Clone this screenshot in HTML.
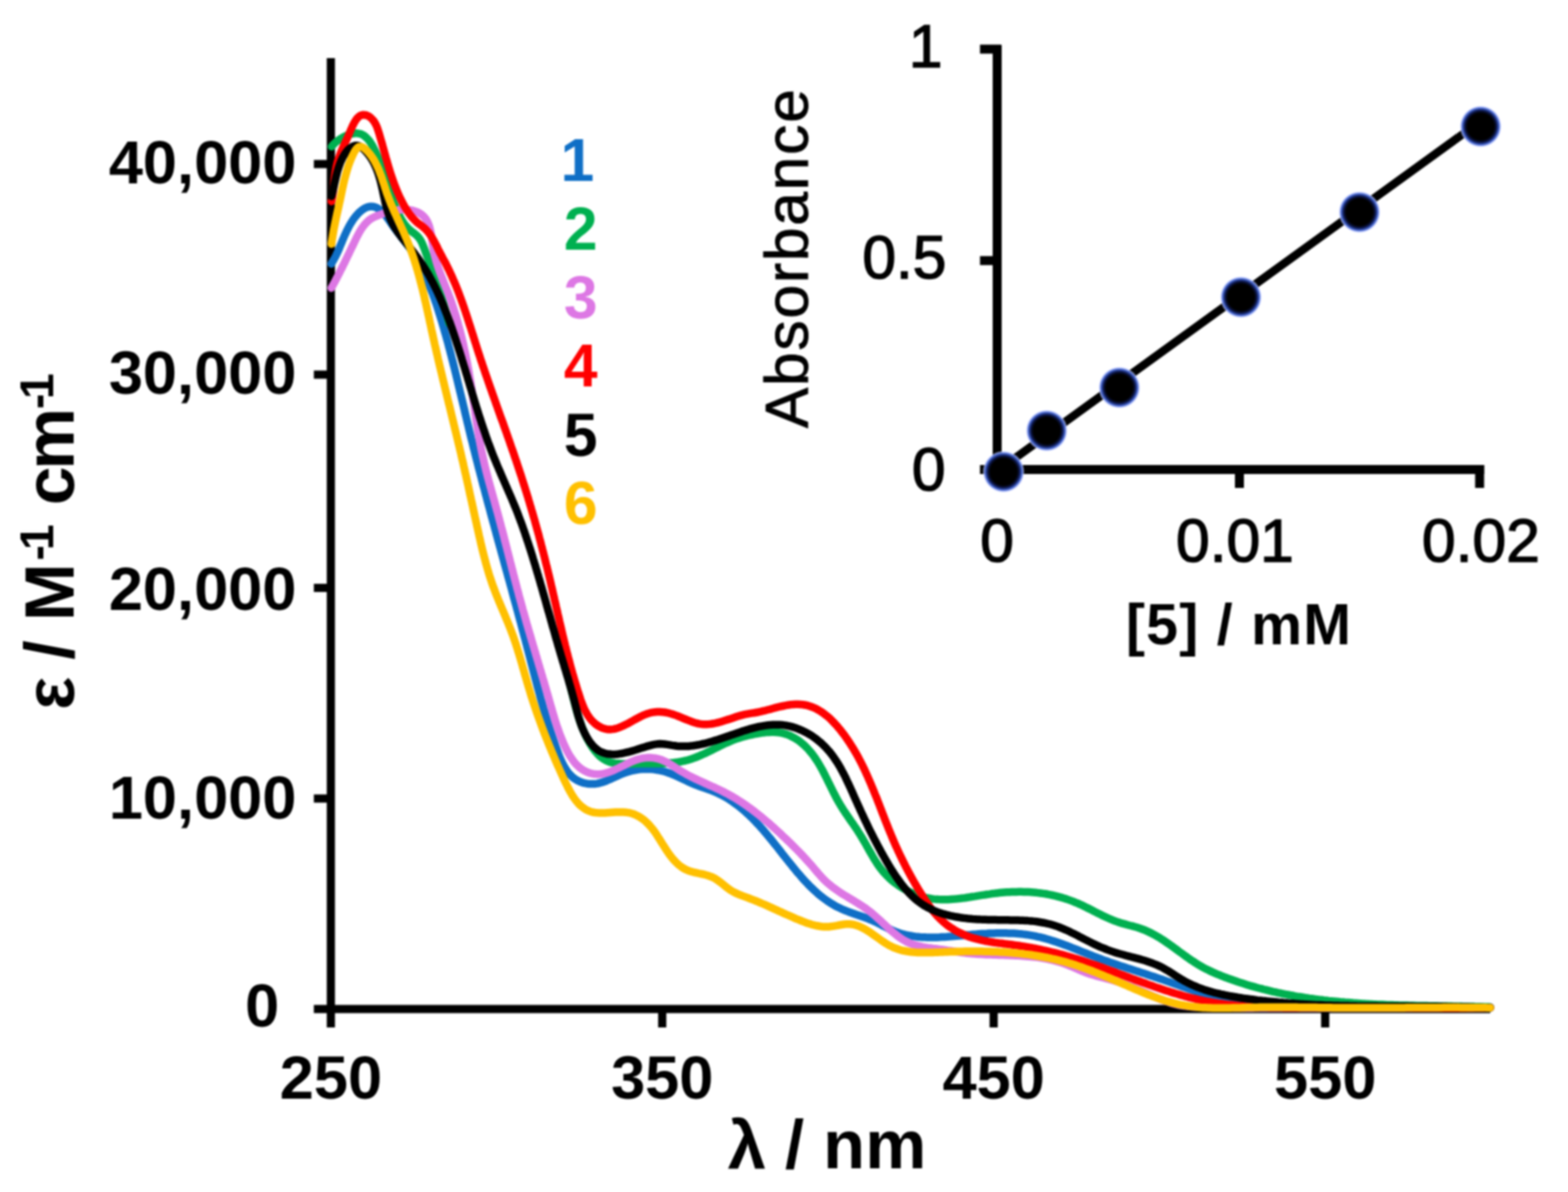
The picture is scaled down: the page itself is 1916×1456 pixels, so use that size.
<!DOCTYPE html>
<html><head><meta charset="utf-8"><title>UV-Vis spectra</title>
<style>html,body{margin:0;padding:0;background:#fff;}svg{display:block;filter:blur(0.85px);}</style>
</head><body>
<svg width="1916" height="1456" viewBox="0 0 1916 1456">
<rect width="1916" height="1456" fill="#ffffff"/>
<g stroke="#000" stroke-width="10" fill="none" stroke-linecap="butt">
<line x1="404.3" y1="71" x2="404.3" y2="1255"/>
<line x1="383.5" y1="1232.5" x2="1821" y2="1232.5"/>
<line x1="383.5" y1="975.4" x2="404.3" y2="975.4"/>
<line x1="383.5" y1="718.1" x2="404.3" y2="718.1"/>
<line x1="383.5" y1="457.6" x2="404.3" y2="457.6"/>
<line x1="383.5" y1="200.4" x2="404.3" y2="200.4"/>
<line x1="809.2" y1="1232.5" x2="809.2" y2="1255"/>
<line x1="1214.2" y1="1232.5" x2="1214.2" y2="1255"/>
<line x1="1619.3" y1="1232.5" x2="1619.3" y2="1255"/>
</g>
<g fill="none" stroke-width="9.5" stroke-linecap="round" stroke-linejoin="round">
<path d="M404.8,322.3 L406.3,319.8 L407.8,317.3 L409.2,314.8 L410.6,312.1 L411.8,309.5 L413.1,306.7 L414.3,304.0 L415.4,301.2 L416.6,298.4 L417.8,295.6 L418.9,292.8 L420.1,290.0 L421.3,287.2 L422.6,284.4 L423.9,281.6 L425.3,278.8 L426.7,276.1 L428.3,273.4 L429.9,270.8 L431.6,268.2 L433.5,265.7 L435.4,263.3 L437.5,260.9 L439.7,258.8 L442.0,256.9 L444.3,255.2 L446.7,253.9 L449.2,252.9 L451.7,252.3 L454.2,252.2 L456.8,252.5 L459.2,253.3 L461.6,254.4 L463.9,255.9 L466.1,257.7 L468.1,259.7 L470.1,262.0 L472.1,264.4 L473.9,267.0 L475.8,269.6 L477.6,272.3 L479.4,275.0 L481.3,277.6 L483.1,280.1 L485.0,282.6 L486.8,285.0 L488.7,287.4 L490.5,289.7 L492.3,292.1 L494.1,294.4 L495.9,296.7 L497.7,299.0 L499.4,301.4 L501.1,303.8 L502.7,306.2 L504.3,308.6 L505.9,311.1 L507.5,313.6 L509.0,316.1 L510.4,318.6 L511.8,321.2 L513.2,323.8 L514.6,326.4 L516.0,329.1 L517.3,331.7 L518.5,334.4 L519.8,337.1 L521.0,339.8 L522.2,342.6 L523.4,345.3 L524.5,348.1 L525.6,350.9 L526.7,353.7 L527.8,356.5 L528.9,359.3 L529.9,362.2 L530.9,365.0 L531.9,367.9 L532.9,370.7 L533.9,373.6 L534.8,376.5 L535.7,379.4 L536.6,382.3 L537.5,385.1 L538.4,388.0 L539.3,390.9 L540.2,393.8 L541.0,396.8 L541.9,399.7 L542.7,402.6 L543.5,405.5 L544.4,408.4 L545.2,411.3 L546.0,414.2 L546.8,417.1 L547.6,420.0 L548.3,422.9 L549.1,425.8 L549.9,428.7 L550.6,431.6 L551.4,434.5 L552.1,437.4 L552.9,440.3 L553.6,443.2 L554.3,446.1 L555.1,449.0 L555.8,451.9 L556.5,454.8 L557.2,457.7 L557.9,460.6 L558.6,463.5 L559.3,466.5 L560.0,469.4 L560.7,472.3 L561.4,475.2 L562.1,478.1 L562.8,481.0 L563.5,483.9 L564.2,486.8 L564.9,489.7 L565.6,492.6 L566.3,495.5 L567.0,498.4 L567.7,501.3 L568.3,504.2 L569.0,507.1 L569.7,510.0 L570.4,512.9 L571.1,515.8 L571.8,518.7 L572.5,521.6 L573.2,524.6 L573.9,527.5 L574.6,530.4 L575.3,533.3 L576.0,536.2 L576.8,539.1 L577.5,542.0 L578.2,544.9 L578.9,547.8 L579.7,550.7 L580.4,553.6 L581.1,556.5 L581.9,559.4 L582.6,562.3 L583.4,565.2 L584.1,568.1 L584.8,571.0 L585.6,573.9 L586.4,576.8 L587.1,579.7 L587.9,582.6 L588.6,585.5 L589.4,588.4 L590.1,591.3 L590.9,594.2 L591.7,597.1 L592.5,600.0 L593.2,602.9 L594.0,605.8 L594.8,608.7 L595.5,611.6 L596.3,614.5 L597.1,617.4 L597.9,620.3 L598.7,623.2 L599.4,626.1 L600.2,629.0 L601.0,631.9 L601.8,634.8 L602.6,637.7 L603.4,640.6 L604.2,643.5 L605.0,646.4 L605.8,649.3 L606.5,652.2 L607.3,655.1 L608.1,658.0 L608.9,660.9 L609.7,663.8 L610.5,666.7 L611.3,669.6 L612.1,672.5 L612.9,675.4 L613.7,678.3 L614.5,681.2 L615.3,684.1 L616.1,687.0 L616.9,689.9 L617.7,692.8 L618.5,695.7 L619.3,698.6 L620.1,701.5 L620.9,704.4 L621.7,707.2 L622.5,710.1 L623.3,713.0 L624.1,715.9 L624.9,718.8 L625.7,721.7 L626.4,724.6 L627.2,727.5 L628.0,730.4 L628.8,733.3 L629.6,736.2 L630.4,739.1 L631.2,742.0 L632.0,744.9 L632.8,747.7 L633.5,750.6 L634.3,753.5 L635.1,756.4 L635.9,759.3 L636.7,762.2 L637.4,765.1 L638.2,768.0 L639.0,770.9 L639.8,773.8 L640.5,776.7 L641.3,779.5 L642.1,782.4 L642.8,785.3 L643.6,788.2 L644.3,791.1 L645.1,794.0 L645.9,796.9 L646.6,799.8 L647.4,802.6 L648.1,805.5 L648.9,808.4 L649.6,811.3 L650.4,814.2 L651.1,817.1 L651.9,820.0 L652.6,822.8 L653.4,825.7 L654.1,828.6 L654.9,831.5 L655.7,834.4 L656.4,837.3 L657.2,840.2 L658.0,843.0 L658.8,845.9 L659.6,848.8 L660.3,851.7 L661.1,854.6 L662.0,857.5 L662.8,860.4 L663.6,863.3 L664.4,866.1 L665.3,869.0 L666.1,871.9 L667.0,874.8 L667.9,877.7 L668.7,880.6 L669.6,883.5 L670.5,886.4 L671.5,889.3 L672.4,892.2 L673.3,895.1 L674.3,897.9 L675.3,900.8 L676.3,903.7 L677.3,906.6 L678.3,909.5 L679.3,912.4 L680.4,915.3 L681.4,918.2 L682.5,921.1 L683.6,924.0 L684.8,926.8 L686.0,929.6 L687.3,932.3 L688.7,935.0 L690.2,937.5 L691.7,940.0 L693.3,942.4 L695.1,944.6 L697.0,946.7 L699.0,948.7 L701.2,950.5 L703.5,952.1 L706.0,953.5 L708.6,954.8 L711.4,955.8 L714.4,956.6 L717.4,957.2 L720.5,957.5 L723.6,957.6 L726.6,957.5 L729.6,957.1 L732.6,956.5 L735.5,955.7 L738.4,954.7 L741.2,953.7 L744.0,952.5 L746.8,951.3 L749.6,950.0 L752.4,948.7 L755.2,947.4 L758.0,946.2 L760.8,945.0 L763.7,943.9 L766.5,943.0 L769.4,942.1 L772.3,941.4 L775.3,940.8 L778.2,940.3 L781.2,939.9 L784.1,939.6 L787.1,939.4 L790.0,939.3 L793.0,939.4 L795.9,939.5 L798.8,939.8 L801.7,940.2 L804.6,940.7 L807.5,941.3 L810.4,942.0 L813.2,942.8 L816.0,943.7 L818.8,944.7 L821.5,945.8 L824.3,947.0 L827.0,948.2 L829.8,949.4 L832.5,950.7 L835.2,952.0 L838.0,953.3 L840.8,954.6 L843.5,955.8 L846.3,957.1 L849.2,958.3 L852.0,959.4 L854.9,960.5 L857.8,961.5 L860.8,962.5 L863.7,963.5 L866.6,964.6 L869.4,965.6 L872.3,966.7 L875.0,967.9 L877.8,969.2 L880.4,970.5 L883.1,971.9 L885.7,973.3 L888.2,974.8 L890.7,976.3 L893.2,977.9 L895.6,979.6 L898.0,981.3 L900.4,983.0 L902.7,984.8 L905.0,986.7 L907.3,988.5 L909.5,990.5 L911.7,992.4 L913.9,994.4 L916.1,996.5 L918.2,998.5 L920.3,1000.6 L922.4,1002.8 L924.4,1004.9 L926.5,1007.1 L928.5,1009.3 L930.5,1011.6 L932.5,1013.8 L934.4,1016.1 L936.4,1018.4 L938.3,1020.7 L940.3,1023.1 L942.2,1025.4 L944.1,1027.8 L946.0,1030.2 L947.9,1032.5 L949.8,1034.9 L951.7,1037.3 L953.6,1039.7 L955.4,1042.1 L957.3,1044.5 L959.2,1046.9 L961.1,1049.2 L963.0,1051.6 L964.9,1054.0 L966.8,1056.3 L968.7,1058.7 L970.6,1061.0 L972.5,1063.4 L974.4,1065.7 L976.4,1067.9 L978.4,1070.2 L980.3,1072.5 L982.3,1074.7 L984.3,1076.9 L986.4,1079.0 L988.4,1081.2 L990.5,1083.3 L992.6,1085.3 L994.7,1087.3 L996.9,1089.3 L999.1,1091.3 L1001.3,1093.2 L1003.6,1095.0 L1005.9,1096.8 L1008.2,1098.5 L1010.6,1100.2 L1013.0,1101.8 L1015.5,1103.4 L1018.0,1104.9 L1020.5,1106.4 L1023.1,1107.7 L1025.8,1109.0 L1028.5,1110.3 L1031.2,1111.5 L1034.0,1112.6 L1036.8,1113.7 L1039.7,1114.7 L1042.5,1115.7 L1045.4,1116.8 L1048.3,1117.8 L1051.2,1118.8 L1054.1,1119.8 L1057.0,1120.8 L1059.9,1121.9 L1062.7,1123.0 L1065.6,1124.2 L1068.4,1125.5 L1071.2,1126.8 L1073.9,1128.1 L1076.6,1129.5 L1079.3,1131.0 L1082.0,1132.4 L1084.7,1133.8 L1087.4,1135.1 L1090.1,1136.4 L1092.8,1137.5 L1095.6,1138.6 L1098.3,1139.5 L1101.1,1140.4 L1103.9,1141.2 L1106.8,1141.9 L1109.6,1142.5 L1112.5,1143.0 L1115.4,1143.5 L1118.3,1143.9 L1121.2,1144.2 L1124.1,1144.5 L1127.1,1144.7 L1130.0,1144.8 L1133.0,1144.9 L1136.0,1145.0 L1139.0,1145.0 L1142.0,1145.0 L1145.0,1144.9 L1148.0,1144.8 L1151.0,1144.6 L1154.0,1144.5 L1157.1,1144.3 L1160.1,1144.0 L1163.1,1143.8 L1166.2,1143.5 L1169.2,1143.3 L1172.3,1143.0 L1175.3,1142.7 L1178.4,1142.4 L1181.4,1142.1 L1184.5,1141.9 L1187.5,1141.6 L1190.6,1141.3 L1193.6,1141.1 L1196.6,1140.8 L1199.6,1140.6 L1202.7,1140.4 L1205.7,1140.3 L1208.7,1140.1 L1211.7,1140.0 L1214.7,1139.9 L1217.7,1139.8 L1220.7,1139.7 L1223.7,1139.7 L1226.7,1139.7 L1229.7,1139.8 L1232.6,1139.9 L1235.6,1140.0 L1238.6,1140.1 L1241.5,1140.3 L1244.5,1140.6 L1247.4,1140.8 L1250.3,1141.1 L1253.3,1141.5 L1256.2,1141.9 L1259.1,1142.4 L1262.0,1142.9 L1264.9,1143.4 L1267.8,1144.1 L1270.7,1144.7 L1273.5,1145.4 L1276.4,1146.2 L1279.3,1147.0 L1282.1,1147.8 L1285.0,1148.7 L1287.9,1149.6 L1290.7,1150.5 L1293.5,1151.5 L1296.4,1152.5 L1299.2,1153.5 L1302.0,1154.6 L1304.9,1155.6 L1307.7,1156.7 L1310.5,1157.8 L1313.3,1158.9 L1316.1,1160.0 L1319.0,1161.2 L1321.8,1162.3 L1324.6,1163.4 L1327.4,1164.5 L1330.2,1165.6 L1333.0,1166.7 L1335.8,1167.8 L1338.7,1168.9 L1341.5,1170.0 L1344.3,1171.0 L1347.1,1172.1 L1349.9,1173.1 L1352.8,1174.1 L1355.6,1175.1 L1358.4,1176.1 L1361.2,1177.0 L1364.1,1178.0 L1366.9,1179.0 L1369.7,1179.9 L1372.5,1180.8 L1375.4,1181.8 L1378.2,1182.7 L1381.0,1183.6 L1383.9,1184.5 L1386.7,1185.4 L1389.5,1186.4 L1392.4,1187.3 L1395.2,1188.2 L1398.0,1189.1 L1400.9,1190.0 L1403.7,1191.0 L1406.5,1191.9 L1409.4,1192.8 L1412.2,1193.8 L1415.0,1194.7 L1417.9,1195.7 L1420.7,1196.6 L1423.5,1197.6 L1426.3,1198.6 L1429.2,1199.6 L1432.0,1200.6 L1434.8,1201.6 L1437.7,1202.6 L1440.5,1203.6 L1443.3,1204.6 L1446.2,1205.6 L1449.0,1206.6 L1451.8,1207.6 L1454.7,1208.6 L1457.5,1209.6 L1460.4,1210.5 L1463.2,1211.5 L1466.1,1212.4 L1468.9,1213.3 L1471.8,1214.2 L1474.7,1215.1 L1477.5,1216.0 L1480.4,1216.8 L1483.3,1217.7 L1486.1,1218.5 L1489.0,1219.2 L1491.9,1220.0 L1494.8,1220.7 L1497.7,1221.4 L1500.6,1222.0 L1503.5,1222.6 L1506.5,1223.2 L1509.4,1223.8 L1512.3,1224.3 L1515.3,1224.8 L1518.2,1225.3 L1521.1,1225.7 L1524.1,1226.1 L1527.0,1226.5 L1530.0,1226.9 L1533.0,1227.2 L1535.9,1227.6 L1538.9,1227.9 L1541.9,1228.1 L1544.9,1228.4 L1547.8,1228.6 L1550.8,1228.9 L1553.8,1229.1 L1556.8,1229.2 L1559.8,1229.4 L1562.8,1229.6 L1565.8,1229.7 L1568.8,1229.8 L1571.8,1229.9 L1574.8,1230.0 L1577.8,1230.1 L1580.8,1230.1 L1583.8,1230.2 L1586.9,1230.2 L1589.9,1230.2 L1592.9,1230.3 L1595.9,1230.3 L1598.9,1230.3 L1601.9,1230.2 L1605.0,1230.2 L1608.0,1230.2 L1611.0,1230.2 L1614.0,1230.2 L1617.0,1230.1 L1620.1,1230.1 L1623.1,1230.0 L1626.1,1230.0 L1629.1,1229.9 L1632.2,1229.9 L1635.2,1229.8 L1638.2,1229.8 L1641.2,1229.7 L1644.2,1229.7 L1647.2,1229.6 L1650.3,1229.6 L1653.3,1229.6 L1656.3,1229.5 L1659.3,1229.5 L1662.3,1229.5 L1665.3,1229.5 L1668.3,1229.5 L1671.3,1229.5 L1674.3,1229.5 L1677.3,1229.5 L1680.3,1229.5 L1683.3,1229.5 L1686.3,1229.6 L1689.3,1229.6 L1692.2,1229.6 L1695.2,1229.7 L1698.2,1229.7 L1701.2,1229.8 L1704.2,1229.8 L1707.2,1229.9 L1710.2,1229.9 L1713.1,1230.0 L1716.1,1230.0 L1719.1,1230.1 L1722.1,1230.1 L1725.1,1230.2 L1728.0,1230.2 L1731.0,1230.3 L1734.0,1230.4 L1737.0,1230.4 L1740.0,1230.5 L1743.0,1230.5 L1745.9,1230.6 L1748.9,1230.6 L1751.9,1230.7 L1754.9,1230.7 L1757.9,1230.7 L1760.9,1230.8 L1763.9,1230.8 L1766.9,1230.8 L1769.9,1230.9 L1772.8,1230.9 L1775.8,1230.9 L1778.8,1230.9 L1781.8,1230.9 L1784.8,1230.9 L1787.9,1230.9 L1790.9,1230.9 L1793.9,1230.8 L1796.9,1230.8 L1799.9,1230.8 L1802.9,1230.7 L1805.9,1230.6 L1809.0,1230.6 L1812.0,1230.5 L1815.0,1230.4 L1818.1,1230.3 L1821.1,1230.2" stroke="#0f6fc6"/>
<path d="M405.2,179.1 L406.7,177.2 L408.6,175.3 L410.8,173.3 L413.3,171.4 L416.1,169.5 L418.9,167.8 L421.9,166.3 L425.0,164.9 L428.1,163.9 L431.1,163.2 L434.0,162.8 L436.8,162.8 L439.4,163.3 L441.9,164.1 L444.2,165.3 L446.3,166.9 L448.3,168.7 L450.2,170.7 L452.0,173.0 L453.6,175.5 L455.2,178.1 L456.6,180.9 L458.0,183.7 L459.4,186.6 L460.6,189.5 L461.8,192.4 L463.0,195.3 L464.1,198.2 L465.2,201.0 L466.2,203.9 L467.2,206.7 L468.2,209.6 L469.1,212.4 L470.1,215.2 L471.0,218.0 L471.9,220.8 L472.9,223.6 L473.8,226.4 L474.7,229.2 L475.6,232.0 L476.6,234.8 L477.5,237.6 L478.5,240.3 L479.5,243.1 L480.5,245.9 L481.6,248.7 L482.7,251.5 L483.9,254.2 L485.1,257.0 L486.3,259.8 L487.6,262.6 L489.0,265.3 L490.5,268.0 L492.1,270.5 L493.7,273.0 L495.5,275.4 L497.4,277.6 L499.4,279.7 L501.6,281.6 L503.9,283.4 L506.2,285.1 L508.4,286.9 L510.4,288.8 L512.2,290.9 L513.8,293.2 L515.2,295.8 L516.4,298.4 L517.5,301.2 L518.6,304.0 L519.6,306.8 L520.6,309.6 L521.7,312.5 L522.7,315.3 L523.8,318.1 L524.8,321.0 L525.8,323.8 L526.8,326.6 L527.9,329.4 L528.9,332.3 L529.9,335.1 L530.9,337.9 L531.9,340.7 L532.9,343.6 L533.9,346.4 L534.8,349.2 L535.8,352.1 L536.8,354.9 L537.7,357.7 L538.6,360.6 L539.6,363.4 L540.5,366.3 L541.4,369.1 L542.2,372.0 L543.1,374.9 L543.9,377.7 L544.8,380.6 L545.6,383.5 L546.4,386.3 L547.2,389.2 L547.9,392.1 L548.7,395.0 M691.8,819.4 L692.6,822.2 L693.4,824.9 L694.2,827.7 L695.0,830.6 L695.7,833.4 L696.5,836.3 L697.2,839.2 L697.9,842.1 L698.6,845.0 L699.4,847.9 L700.1,850.8 L700.8,853.8 L701.6,856.7 L702.3,859.6 L703.1,862.6 L703.9,865.5 L704.7,868.5 L705.6,871.4 L706.4,874.3 L707.3,877.2 L708.3,880.1 L709.3,883.0 L710.3,885.9 L711.4,888.7 L712.6,891.5 L713.8,894.3 L715.0,897.1 L716.3,899.9 L717.7,902.6 L719.2,905.3 L720.7,907.9 L722.3,910.5 L723.9,913.1 L725.7,915.5 L727.5,917.9 L729.5,920.1 L731.5,922.2 L733.6,924.2 L735.8,925.9 L738.1,927.5 L740.5,928.9 L743.0,930.0 L745.6,930.9 L748.3,931.6 L751.0,932.2 L753.9,932.6 L756.8,932.8 L759.7,933.0 L762.7,933.0 L765.7,933.0 L768.8,933.0 L771.8,932.9 L774.9,932.9 L778.0,932.8 L781.1,932.8 L784.2,932.8 L787.2,932.8 L790.3,932.8 L793.4,932.8 L796.4,932.8 L799.5,932.8 L802.5,932.7 L805.6,932.7 L808.6,932.6 L811.6,932.4 L814.6,932.3 L817.6,932.1 L820.5,931.8 L823.5,931.5 L826.4,931.1 L829.3,930.7 L832.2,930.2 L835.1,929.6 L837.9,929.0 L840.7,928.3 L843.5,927.4 L846.3,926.5 L849.0,925.6 L851.7,924.5 L854.4,923.4 L857.1,922.2 L859.8,921.0 L862.5,919.8 L865.1,918.5 L867.8,917.2 L870.5,915.9 L873.1,914.5 L875.8,913.2 L878.5,911.9 L881.2,910.5 L883.9,909.2 L886.6,908.0 L889.3,906.8 L892.1,905.6 L894.9,904.4 L897.7,903.4 L900.5,902.4 L903.4,901.4 L906.3,900.5 L909.2,899.7 L912.1,898.9 L915.1,898.2 L918.1,897.6 L921.1,896.9 L924.2,896.4 L927.2,895.8 L930.3,895.3 L933.3,894.9 L936.4,894.6 L939.5,894.4 L942.5,894.2 L945.5,894.2 L948.5,894.4 L951.4,894.7 L954.3,895.1 L957.2,895.8 L959.9,896.6 L962.7,897.5 L965.3,898.6 L967.9,899.9 L970.5,901.2 L972.9,902.7 L975.4,904.3 L977.7,906.1 L980.0,907.9 L982.2,909.8 L984.3,911.8 L986.4,913.9 L988.4,916.1 L990.3,918.3 L992.2,920.6 L994.0,923.0 L995.7,925.4 L997.3,927.9 L999.0,930.4 L1000.5,932.9 L1002.0,935.5 L1003.5,938.1 L1005.0,940.8 L1006.4,943.5 L1007.8,946.2 L1009.1,948.9 L1010.5,951.6 L1011.8,954.4 L1013.2,957.1 L1014.5,959.8 L1015.9,962.6 L1017.2,965.3 L1018.6,968.1 L1020.0,970.8 L1021.4,973.5 L1022.8,976.2 L1024.3,978.8 L1025.8,981.4 L1027.3,984.0 L1028.9,986.6 L1030.5,989.1 L1032.2,991.6 L1033.8,994.1 L1035.5,996.5 L1037.2,999.0 L1038.9,1001.5 L1040.6,1003.9 L1042.3,1006.3 L1044.0,1008.8 L1045.6,1011.2 L1047.3,1013.7 L1048.9,1016.2 L1050.5,1018.7 L1052.1,1021.2 L1053.6,1023.7 L1055.1,1026.3 L1056.6,1028.9 L1058.1,1031.5 L1059.5,1034.1 L1061.0,1036.7 L1062.4,1039.3 L1063.9,1041.8 L1065.4,1044.4 L1066.9,1047.0 L1068.4,1049.5 L1070.0,1052.0 L1071.6,1054.5 L1073.3,1057.0 L1075.0,1059.4 L1076.8,1061.8 L1078.7,1064.1 L1080.6,1066.3 L1082.7,1068.6 L1084.8,1070.7 L1086.9,1072.8 L1089.2,1074.8 L1091.5,1076.8 L1093.9,1078.7 L1096.4,1080.5 L1098.9,1082.3 L1101.5,1083.9 L1104.1,1085.5 L1106.7,1087.0 L1109.4,1088.5 L1112.2,1089.8 L1114.9,1091.1 L1117.7,1092.3 L1120.6,1093.3 L1123.4,1094.3 L1126.3,1095.2 L1129.2,1096.0 L1132.1,1096.7 L1135.0,1097.2 L1137.9,1097.7 L1140.8,1098.1 L1143.7,1098.4 L1146.7,1098.6 L1149.6,1098.7 L1152.5,1098.8 L1155.5,1098.7 L1158.4,1098.7 L1161.4,1098.5 L1164.4,1098.3 L1167.3,1098.1 L1170.3,1097.8 L1173.3,1097.4 L1176.3,1097.1 L1179.2,1096.7 L1182.2,1096.2 L1185.2,1095.8 L1188.2,1095.3 L1191.2,1094.9 L1194.2,1094.4 L1197.2,1093.9 L1200.2,1093.4 L1203.2,1093.0 L1206.2,1092.5 L1209.2,1092.1 L1212.2,1091.6 L1215.2,1091.3 L1218.2,1090.9 L1221.2,1090.6 L1224.1,1090.3 L1227.1,1090.0 L1230.1,1089.8 L1233.1,1089.7 L1236.1,1089.5 L1239.1,1089.4 L1242.0,1089.4 L1245.0,1089.3 L1248.0,1089.3 L1250.9,1089.4 L1253.9,1089.5 L1256.8,1089.6 L1259.8,1089.8 L1262.7,1090.0 L1265.7,1090.3 L1268.6,1090.6 L1271.5,1091.0 L1274.4,1091.4 L1277.3,1091.8 L1280.2,1092.3 L1283.1,1092.9 L1286.0,1093.5 L1288.9,1094.1 L1291.7,1094.8 L1294.6,1095.6 L1297.4,1096.4 L1300.2,1097.2 L1303.1,1098.1 L1305.9,1099.1 L1308.7,1100.1 L1311.4,1101.1 L1314.2,1102.3 L1317.0,1103.4 L1319.7,1104.7 L1322.5,1105.9 L1325.2,1107.2 L1327.9,1108.6 L1330.6,1109.9 L1333.4,1111.3 L1336.1,1112.7 L1338.8,1114.1 L1341.5,1115.5 L1344.2,1116.8 L1347.0,1118.2 L1349.7,1119.5 L1352.5,1120.8 L1355.2,1122.0 L1358.0,1123.2 L1360.8,1124.3 L1363.6,1125.4 L1366.4,1126.4 L1369.3,1127.3 L1372.2,1128.1 L1375.1,1128.9 L1377.9,1129.7 L1380.8,1130.5 L1383.7,1131.2 L1386.6,1132.0 L1389.4,1132.8 L1392.3,1133.7 L1395.1,1134.7 L1397.8,1135.7 L1400.5,1136.9 L1403.2,1138.1 L1405.9,1139.4 L1408.5,1140.7 L1411.1,1142.1 L1413.7,1143.6 L1416.3,1145.1 L1418.8,1146.7 L1421.3,1148.3 L1423.8,1150.0 L1426.3,1151.7 L1428.7,1153.4 L1431.2,1155.1 L1433.6,1156.9 L1436.0,1158.6 L1438.4,1160.4 L1440.8,1162.2 L1443.3,1164.0 L1445.7,1165.7 L1448.1,1167.5 L1450.6,1169.2 L1453.0,1171.0 L1455.5,1172.7 L1458.0,1174.3 L1460.5,1176.0 L1463.0,1177.6 L1465.6,1179.1 L1468.2,1180.6 L1470.8,1182.1 L1473.5,1183.5 L1476.2,1184.8 L1478.9,1186.1 L1481.6,1187.4 L1484.4,1188.6 L1487.2,1189.8 L1490.0,1190.9 L1492.8,1192.1 L1495.6,1193.2 L1498.4,1194.2 L1501.2,1195.3 L1504.1,1196.3 L1506.9,1197.3 L1509.8,1198.3 L1512.6,1199.3 L1515.5,1200.2 L1518.3,1201.1 L1521.2,1202.0 L1524.0,1202.9 L1526.9,1203.8 L1529.8,1204.6 L1532.7,1205.4 L1535.5,1206.2 L1538.4,1207.0 L1541.3,1207.7 L1544.2,1208.5 L1547.1,1209.2 L1550.0,1209.9 L1552.9,1210.6 L1555.8,1211.3 L1558.7,1211.9 L1561.6,1212.6 L1564.5,1213.2 L1567.5,1213.8 L1570.4,1214.4 L1573.3,1214.9 L1576.2,1215.5 L1579.2,1216.0 L1582.1,1216.6 L1585.1,1217.1 L1588.0,1217.5 L1590.9,1218.0 L1593.9,1218.5 L1596.8,1218.9 L1599.8,1219.4 L1602.7,1219.8 L1605.7,1220.2 L1608.7,1220.6 L1611.6,1221.0 L1614.6,1221.3 L1617.6,1221.7 L1620.5,1222.0 L1623.5,1222.4 L1626.5,1222.7 L1629.5,1223.0 L1632.4,1223.3 L1635.4,1223.6 L1638.4,1223.9 L1641.4,1224.1 L1644.4,1224.4 L1647.3,1224.6 L1650.3,1224.8 L1653.3,1225.1 L1656.3,1225.3 L1659.3,1225.5 L1662.3,1225.7 L1665.3,1225.9 L1668.3,1226.1 L1671.3,1226.2 L1674.3,1226.4 L1677.3,1226.6 L1680.3,1226.7 L1683.3,1226.9 L1686.3,1227.0 L1689.3,1227.1 L1692.3,1227.2 L1695.3,1227.4 L1698.3,1227.5 L1701.3,1227.6 L1704.3,1227.7 L1707.3,1227.8 L1710.3,1227.9 L1713.3,1228.0 L1716.3,1228.0 L1719.3,1228.1 L1722.3,1228.2 L1725.3,1228.3 L1728.3,1228.3 L1731.3,1228.4 L1734.3,1228.5 L1737.3,1228.5 L1740.3,1228.6 L1743.3,1228.6 L1746.3,1228.7 L1749.3,1228.7 L1752.3,1228.8 L1755.3,1228.8 L1758.3,1228.9 L1761.3,1228.9 L1764.3,1229.0 L1767.3,1229.0 L1770.2,1229.1 L1773.2,1229.1 L1776.2,1229.2 L1779.2,1229.2 L1782.2,1229.3 L1785.2,1229.3 L1788.2,1229.4 L1791.1,1229.5 L1794.1,1229.5 L1797.1,1229.6 L1800.1,1229.6 L1803.0,1229.7 L1806.0,1229.8 L1809.0,1229.8 L1812.0,1229.9 L1814.9,1230.0 L1817.9,1230.1 L1820.8,1230.2" stroke="#00b050"/>
<path d="M404.9,351.8 L406.3,349.3 L407.7,346.8 L409.1,344.2 L410.5,341.6 L411.8,338.9 L413.2,336.3 L414.6,333.6 L415.9,330.9 L417.3,328.2 L418.7,325.5 L420.0,322.7 L421.4,320.0 L422.7,317.2 L424.0,314.5 L425.4,311.7 L426.7,308.9 L428.0,306.2 L429.3,303.4 L430.7,300.7 L432.0,297.9 L433.3,295.2 L434.6,292.5 L435.9,289.8 L437.3,287.2 L438.7,284.6 L440.1,282.1 L441.6,279.7 L443.2,277.3 L444.9,275.1 L446.6,273.1 L448.5,271.2 L450.4,269.4 L452.5,267.8 L454.8,266.4 L457.2,265.1 L459.7,264.0 L462.2,263.0 L464.9,262.1 L467.6,261.1 L470.4,260.2 L473.2,259.4 L476.1,258.6 L479.0,257.9 L481.9,257.3 L484.9,256.8 L487.9,256.4 L490.9,256.1 L494.0,256.0 L497.0,256.1 L500.1,256.4 L503.0,256.9 L505.9,257.7 L508.7,258.6 L511.3,259.7 L513.7,261.1 L515.9,262.7 L517.9,264.5 L519.6,266.5 L521.1,268.7 L522.4,271.1 L523.5,273.7 L524.5,276.3 L525.3,279.2 L526.0,282.1 L526.6,285.1 L527.1,288.1 L527.6,291.3 L528.1,294.4 L528.6,297.6 L529.0,300.8 L529.5,303.9 L530.1,307.0 L530.7,310.1 L531.4,313.1 L532.2,316.1 L533.0,319.0 L533.9,321.9 L534.8,324.8 L535.7,327.6 L536.7,330.5 L537.7,333.3 L538.8,336.0 L539.9,338.8 L540.9,341.5 L542.0,344.3 L543.1,347.0 L544.2,349.7 L545.3,352.5 L546.4,355.2 L547.5,357.9 L548.5,360.7 L549.6,363.5 L550.6,366.2 L551.6,369.0 L552.5,371.8 L553.5,374.6 L554.4,377.4 L555.3,380.3 L556.2,383.1 L557.1,386.0 L557.9,388.8 L558.7,391.7 L559.6,394.5 L560.3,397.4 L561.1,400.3 L561.9,403.2 L562.6,406.1 L563.4,409.0 L564.1,411.9 L564.8,414.9 L565.5,417.8 L566.1,420.7 L566.8,423.7 L567.4,426.6 L568.1,429.5 L568.7,432.5 L569.3,435.4 L569.9,438.4 L570.5,441.4 L571.0,444.3 L571.6,447.3 L572.1,450.3 L572.7,453.2 L573.2,456.2 L573.7,459.2 L574.2,462.1 L574.7,465.1 L575.2,468.1 L575.7,471.0 L576.2,474.0 L576.6,477.0 L577.1,479.9 L577.5,482.9 L578.0,485.9 L578.4,488.8 L578.9,491.8 L579.3,494.7 L579.7,497.7 L580.2,500.6 L580.6,503.6 L581.0,506.5 L581.5,509.5 L581.9,512.4 L582.4,515.4 L582.8,518.3 L583.3,521.3 L583.7,524.2 L584.2,527.1 L584.7,530.1 L585.2,533.0 L585.7,535.9 L586.2,538.9 L586.7,541.8 L587.3,544.7 L587.8,547.6 L588.4,550.6 L589.0,553.5 L589.6,556.4 L590.3,559.3 L590.9,562.2 L591.6,565.1 L592.3,568.1 L593.0,571.0 L593.7,573.9 L594.4,576.8 L595.2,579.7 L595.9,582.6 L596.7,585.5 L597.5,588.4 L598.3,591.3 L599.1,594.2 L599.9,597.1 L600.7,600.0 L601.5,602.9 L602.3,605.8 L603.1,608.7 L603.9,611.6 L604.7,614.5 L605.5,617.4 L606.3,620.3 L607.1,623.2 L607.9,626.1 L608.7,629.0 L609.5,631.9 L610.2,634.8 L611.0,637.7 L611.8,640.6 L612.5,643.5 L613.3,646.3 L614.1,649.2 L614.8,652.1 L615.6,655.0 L616.3,657.9 L617.0,660.8 L617.8,663.7 L618.5,666.6 L619.3,669.5 L620.0,672.4 L620.8,675.3 L621.5,678.2 L622.2,681.1 L623.0,684.0 L623.7,686.9 L624.5,689.8 L625.2,692.7 L625.9,695.6 L626.7,698.5 L627.4,701.4 L628.2,704.3 L628.9,707.2 L629.7,710.1 L630.4,713.0 L631.2,715.8 L631.9,718.7 L632.7,721.6 L633.5,724.5 L634.2,727.4 L635.0,730.3 L635.8,733.2 L636.6,736.1 L637.4,739.0 L638.2,741.9 L638.9,744.8 L639.8,747.7 L640.6,750.5 L641.4,753.4 L642.2,756.3 L643.0,759.2 L643.8,762.1 L644.7,765.0 L645.5,767.9 L646.3,770.8 L647.2,773.6 L648.0,776.5 L648.9,779.4 L649.7,782.3 L650.6,785.2 L651.4,788.1 L652.3,790.9 L653.1,793.8 L654.0,796.7 L654.8,799.6 L655.7,802.5 L656.5,805.3 L657.4,808.2 L658.2,811.1 L659.1,814.0 L659.9,816.8 L660.8,819.7 L661.6,822.6 L662.5,825.5 L663.3,828.3 L664.2,831.2 L665.0,834.1 L665.8,836.9 L666.7,839.8 L667.5,842.7 L668.3,845.5 L669.2,848.4 L670.0,851.2 L670.8,854.1 L671.6,857.0 L672.4,859.8 L673.2,862.7 L674.1,865.5 L674.9,868.4 L675.7,871.2 L676.6,874.1 L677.4,876.9 L678.3,879.8 L679.2,882.6 L680.1,885.5 L681.1,888.3 L682.1,891.1 L683.1,894.0 L684.1,896.8 L685.2,899.7 L686.4,902.5 L687.5,905.4 L688.7,908.2 L690.0,911.0 L691.3,913.9 L692.7,916.7 L694.1,919.4 L695.7,922.1 L697.3,924.7 L699.0,927.2 L700.7,929.6 L702.6,932.0 L704.6,934.1 L706.7,936.2 L708.9,938.0 L711.2,939.7 L713.7,941.3 L716.3,942.6 L719.0,943.7 L721.8,944.6 L724.7,945.2 L727.6,945.6 L730.5,945.7 L733.4,945.6 L736.2,945.2 L739.1,944.6 L742.0,943.8 L744.8,942.9 L747.6,941.8 L750.4,940.6 L753.2,939.3 L756.1,938.0 L758.9,936.6 L761.7,935.2 L764.5,933.8 L767.3,932.4 L770.1,931.1 L773.0,929.9 L775.8,928.8 L778.6,927.8 L781.5,927.0 L784.4,926.3 L787.3,925.9 L790.2,925.6 L793.1,925.5 L795.9,925.6 L798.8,925.9 L801.6,926.3 L804.4,926.9 L807.2,927.8 L809.9,928.8 L812.6,930.0 L815.3,931.4 L817.9,932.9 L820.4,934.4 L823.0,936.1 L825.6,937.8 L828.1,939.5 L830.7,941.1 L833.3,942.7 L836.0,944.2 L838.6,945.7 L841.3,947.1 L844.0,948.5 L846.6,949.8 L849.3,951.1 L852.1,952.4 L854.8,953.7 L857.5,954.9 L860.2,956.1 L862.9,957.4 L865.6,958.6 L868.4,959.8 L871.1,961.0 L873.8,962.2 L876.5,963.5 L879.2,964.8 L881.8,966.1 L884.5,967.4 L887.1,968.7 L889.8,970.1 L892.4,971.6 L894.9,973.0 L897.5,974.5 L900.0,976.1 L902.6,977.7 L905.1,979.3 L907.6,980.9 L910.0,982.6 L912.5,984.3 L914.9,986.1 L917.4,987.8 L919.8,989.6 L922.2,991.4 L924.5,993.3 L926.9,995.1 L929.3,997.0 L931.6,998.9 L933.9,1000.8 L936.2,1002.8 L938.5,1004.7 L940.8,1006.7 L943.0,1008.7 L945.3,1010.7 L947.5,1012.7 L949.7,1014.7 L952.0,1016.8 L954.2,1018.8 L956.3,1020.9 L958.5,1022.9 L960.7,1025.0 L962.8,1027.0 L965.0,1029.1 L967.1,1031.2 L969.2,1033.3 L971.3,1035.4 L973.4,1037.5 L975.5,1039.6 L977.6,1041.8 L979.6,1043.9 L981.7,1046.1 L983.7,1048.3 L985.7,1050.5 L987.7,1052.7 L989.7,1054.9 L991.7,1057.2 L993.7,1059.5 L995.6,1061.8 L997.6,1064.1 L999.5,1066.4 L1001.5,1068.6 L1003.5,1070.9 L1005.5,1073.1 L1007.6,1075.2 L1009.8,1077.2 L1012.0,1079.2 L1014.3,1081.1 L1016.6,1082.9 L1018.9,1084.7 L1021.3,1086.4 L1023.8,1088.1 L1026.2,1089.8 L1028.7,1091.4 L1031.2,1093.0 L1033.8,1094.5 L1036.3,1096.1 L1038.9,1097.6 L1041.4,1099.2 L1044.0,1100.7 L1046.5,1102.3 L1049.1,1103.9 L1051.6,1105.5 L1054.1,1107.1 L1056.6,1108.8 L1059.0,1110.5 L1061.4,1112.3 L1063.8,1114.1 L1066.1,1116.0 L1068.4,1118.0 L1070.7,1120.0 L1072.9,1122.0 L1075.2,1124.1 L1077.4,1126.1 L1079.6,1128.2 L1081.8,1130.3 L1084.0,1132.3 L1086.2,1134.4 L1088.4,1136.4 L1090.7,1138.3 L1093.0,1140.2 L1095.3,1142.1 L1097.6,1143.9 L1100.0,1145.6 L1102.5,1147.2 L1105.0,1148.7 L1107.5,1150.1 L1110.2,1151.4 L1112.9,1152.5 L1115.6,1153.5 L1118.5,1154.4 L1121.4,1155.2 L1124.4,1155.9 L1127.4,1156.6 L1130.4,1157.1 L1133.5,1157.6 L1136.6,1158.0 L1139.6,1158.5 L1142.7,1158.8 L1145.8,1159.2 L1148.9,1159.6 L1151.9,1160.0 L1154.9,1160.4 L1157.9,1160.9 L1160.8,1161.3 L1163.8,1161.8 L1166.7,1162.2 L1169.6,1162.6 L1172.5,1163.1 L1175.4,1163.5 L1178.3,1163.8 L1181.2,1164.2 L1184.2,1164.5 L1187.1,1164.8 L1190.0,1165.0 L1193.0,1165.2 L1196.0,1165.4 L1198.9,1165.6 L1201.9,1165.8 L1204.9,1165.9 L1207.9,1166.0 L1210.9,1166.1 L1213.9,1166.2 L1216.9,1166.3 L1219.9,1166.4 L1222.9,1166.5 L1225.9,1166.6 L1228.9,1166.7 L1231.9,1166.8 L1234.9,1166.9 L1237.9,1167.0 L1240.9,1167.2 L1244.0,1167.3 L1247.0,1167.5 L1249.9,1167.7 L1252.9,1167.9 L1255.9,1168.2 L1258.9,1168.4 L1261.9,1168.7 L1264.9,1169.1 L1267.8,1169.4 L1270.8,1169.9 L1273.7,1170.3 L1276.7,1170.8 L1279.6,1171.4 L1282.5,1172.0 L1285.4,1172.6 L1288.3,1173.3 L1291.2,1174.1 L1294.0,1174.9 L1296.9,1175.8 L1299.7,1176.8 L1302.5,1177.8 L1305.3,1178.9 L1308.1,1180.1 L1310.9,1181.2 L1313.7,1182.5 L1316.5,1183.7 L1319.3,1184.9 L1322.1,1186.1 L1324.9,1187.2 L1327.7,1188.2 L1330.5,1189.2 L1333.4,1190.2 L1336.2,1191.0 L1339.1,1191.8 L1342.0,1192.6 L1344.9,1193.4 L1347.8,1194.1 L1350.7,1194.8 L1353.6,1195.6 L1356.4,1196.4 L1359.3,1197.2 L1362.1,1198.1 L1365.0,1198.9 L1367.8,1199.8 L1370.7,1200.8 L1373.5,1201.8 L1376.3,1202.8 L1379.1,1203.9 L1381.9,1205.0 L1384.7,1206.1 L1387.4,1207.3 L1390.2,1208.5 L1393.0,1209.7 L1395.7,1210.9 L1398.5,1212.1 L1401.3,1213.4 L1404.0,1214.6 L1406.8,1215.8 L1409.5,1217.0 L1412.3,1218.2 L1415.1,1219.4 L1417.9,1220.5 L1420.7,1221.6 L1423.5,1222.6 L1426.3,1223.6 L1429.1,1224.5 L1432.0,1225.4 L1434.9,1226.2 L1437.7,1226.9 L1440.6,1227.5 L1443.6,1228.1 L1446.5,1228.5 L1449.5,1228.9 L1452.4,1229.3 L1455.4,1229.5 L1458.4,1229.8 L1461.4,1230.0 L1464.4,1230.1 L1467.4,1230.3 L1470.4,1230.4 L1473.4,1230.5 L1476.4,1230.6 L1479.4,1230.7 L1482.4,1230.8 L1485.4,1230.8 L1488.4,1230.9 L1491.4,1231.0 L1494.4,1231.0 L1497.4,1231.1 L1500.4,1231.1 L1503.4,1231.1 L1506.4,1231.1 L1509.4,1231.2 L1512.4,1231.2 L1515.4,1231.2 L1518.4,1231.2 L1521.4,1231.2 L1524.4,1231.2 L1527.4,1231.2 L1530.4,1231.2 L1533.4,1231.1 L1536.4,1231.1 L1539.4,1231.1 L1542.4,1231.1 L1545.4,1231.1 L1548.4,1231.1 L1551.4,1231.0 L1554.4,1231.0 L1557.3,1231.0 L1560.3,1231.0 L1563.3,1231.0 L1566.3,1231.0 L1569.3,1230.9 L1572.3,1230.9 L1575.3,1230.9 L1578.3,1230.9 L1581.3,1230.9 L1584.3,1230.9 L1587.3,1230.9 L1590.3,1230.9 L1593.3,1230.9 L1596.3,1230.9 L1599.3,1230.9 L1602.3,1230.9 L1605.3,1230.9 L1608.3,1230.9 L1611.3,1230.9 L1614.3,1230.9 L1617.3,1230.9 L1620.3,1230.9 L1623.3,1230.9 L1626.2,1231.0 L1629.2,1231.0 L1632.2,1231.0 L1635.2,1231.0 L1638.2,1231.0 L1641.2,1231.0 L1644.2,1231.0 L1647.2,1231.0 L1650.2,1231.0 L1653.2,1231.0 L1656.2,1231.0 L1659.2,1231.0 L1662.2,1231.0 L1665.2,1231.0 L1668.2,1231.0 L1671.2,1231.0 L1674.2,1231.1 L1677.2,1231.1 L1680.2,1231.1 L1683.2,1231.1 L1686.2,1231.1 L1689.2,1231.1 L1692.2,1231.1 L1695.2,1231.0 L1698.2,1231.0 L1701.2,1231.0 L1704.2,1231.0 L1707.2,1231.0 L1710.1,1231.0 L1713.1,1231.0 L1716.1,1231.0 L1719.1,1231.0 L1722.1,1231.0 L1725.1,1231.0 L1728.1,1231.0 L1731.1,1231.0 L1734.1,1231.0 L1737.1,1231.0 L1740.1,1231.0 L1743.1,1231.0 L1746.1,1231.0 L1749.1,1231.0 L1752.1,1231.0 L1755.1,1231.0 L1758.1,1231.0 L1761.1,1231.0 L1764.1,1231.0 L1767.1,1231.0 L1770.1,1231.0 L1773.1,1231.0 L1776.1,1231.0 L1779.1,1231.0 L1782.0,1231.0 L1785.0,1231.0 L1788.0,1231.0 L1791.0,1231.0 L1794.0,1231.0 L1797.0,1231.0 L1800.0,1231.0 L1803.0,1231.0 L1806.0,1231.0 L1809.0,1231.0 L1812.0,1231.0 L1815.0,1231.0 L1818.0,1231.0 L1821.0,1231.0" stroke="#dd77e4"/>
<path d="M405.0,246.0 L405.6,243.2 L406.1,240.4 L406.5,237.5 L406.9,234.5 L407.3,231.5 L407.6,228.4 L408.0,225.4 L408.3,222.3 L408.6,219.2 L409.0,216.1 L409.4,213.1 L409.9,210.0 L410.4,207.0 L410.9,204.1 L411.6,201.2 L412.3,198.3 L413.1,195.6 L414.0,192.9 L415.0,190.2 L416.0,187.5 L417.0,184.9 L418.2,182.2 L419.3,179.6 L420.6,176.9 L421.8,174.1 L423.1,171.4 L424.4,168.5 L425.7,165.6 L427.0,162.6 L428.3,159.5 L429.7,156.4 L431.1,153.3 L432.6,150.4 L434.1,147.7 L435.8,145.3 L437.6,143.3 L439.5,141.7 L441.7,140.6 L443.9,140.2 L446.3,140.4 L448.7,141.1 L451.0,142.3 L453.2,144.0 L455.2,146.0 L457.0,148.3 L458.5,150.8 L459.9,153.5 L461.1,156.4 L462.1,159.4 L463.1,162.5 L464.0,165.6 L464.9,168.7 L465.8,171.8 L466.7,174.8 L467.5,177.9 L468.3,180.9 L469.2,183.9 L470.0,186.9 L470.8,189.8 L471.6,192.8 L472.5,195.7 L473.3,198.6 L474.1,201.5 L475.0,204.4 L475.9,207.2 L476.7,210.0 L477.6,212.9 L478.6,215.7 L479.5,218.5 L480.5,221.2 L481.5,224.0 L482.5,226.7 L483.6,229.5 L484.7,232.2 L485.8,234.9 L487.0,237.6 L488.2,240.3 L489.5,242.9 L490.8,245.6 L492.2,248.2 L493.6,250.9 L495.1,253.5 L496.7,256.0 L498.3,258.5 L500.0,261.0 L501.8,263.4 L503.7,265.7 L505.7,267.8 L507.8,269.9 L510.0,271.9 L512.3,273.7 L514.7,275.5 L517.0,277.3 L519.2,279.2 L521.3,281.3 L523.2,283.5 L525.0,285.8 L526.6,288.2 L528.2,290.7 L529.7,293.3 L531.1,296.0 L532.5,298.6 L533.9,301.3 L535.2,304.1 L536.6,306.8 L538.0,309.5 L539.4,312.1 L540.8,314.8 L542.3,317.5 L543.7,320.1 L545.1,322.8 L546.4,325.5 L547.8,328.2 L549.1,330.9 L550.3,333.6 L551.6,336.3 L552.8,339.0 L554.0,341.8 L555.2,344.5 L556.4,347.3 L557.5,350.1 L558.6,352.8 L559.7,355.6 L560.8,358.4 L561.8,361.2 L562.9,364.0 L563.9,366.8 L564.9,369.6 L565.9,372.5 L566.9,375.3 L567.8,378.1 L568.8,381.0 L569.7,383.8 L570.7,386.7 L571.6,389.5 L572.5,392.4 L573.4,395.2 L574.4,398.1 L575.3,400.9 L576.2,403.8 L577.1,406.6 L578.0,409.5 L578.9,412.4 L579.8,415.2 L580.7,418.1 L581.6,420.9 L582.5,423.8 L583.4,426.6 L584.3,429.5 L585.2,432.4 L586.2,435.2 L587.1,438.1 L588.0,440.9 L589.0,443.7 L589.9,446.6 L590.9,449.4 L591.9,452.3 L592.8,455.1 L593.8,457.9 L594.8,460.8 L595.8,463.6 L596.7,466.4 L597.7,469.2 L598.7,472.1 L599.7,474.9 L600.7,477.7 L601.7,480.6 L602.7,483.4 L603.7,486.2 L604.7,489.0 L605.7,491.8 L606.7,494.7 L607.7,497.5 L608.7,500.3 L609.7,503.1 L610.7,506.0 L611.7,508.8 L612.7,511.6 L613.8,514.4 L614.8,517.2 L615.8,520.1 L616.8,522.9 L617.8,525.7 L618.8,528.5 L619.8,531.3 L620.8,534.2 L621.8,537.0 L622.8,539.8 L623.7,542.7 L624.7,545.5 L625.7,548.3 L626.7,551.1 L627.7,554.0 L628.6,556.8 L629.6,559.7 L630.6,562.5 L631.5,565.3 L632.5,568.2 L633.4,571.0 L634.4,573.9 L635.3,576.7 L636.3,579.6 L637.2,582.4 L638.1,585.3 L639.0,588.1 L639.9,591.0 L640.8,593.8 L641.7,596.7 L642.6,599.6 L643.5,602.4 L644.4,605.3 L645.3,608.2 L646.1,611.1 L647.0,613.9 L647.8,616.8 L648.7,619.7 L649.5,622.6 L650.4,625.4 L651.2,628.3 L652.0,631.2 L652.9,634.1 L653.7,637.0 L654.5,639.9 L655.3,642.8 L656.1,645.7 L656.9,648.6 L657.7,651.4 L658.5,654.3 L659.2,657.2 L660.0,660.1 L660.8,663.0 L661.5,665.9 L662.3,668.8 L663.0,671.7 L663.8,674.6 L664.5,677.5 L665.3,680.4 L666.0,683.3 L666.7,686.3 L667.4,689.2 L668.2,692.1 L668.9,695.0 L669.6,697.9 L670.3,700.8 L671.0,703.7 L671.7,706.6 L672.4,709.5 L673.0,712.4 L673.7,715.3 L674.4,718.2 L675.1,721.2 L675.7,724.1 L676.4,727.0 L677.1,729.9 L677.7,732.8 L678.4,735.7 L679.1,738.6 L679.7,741.5 L680.4,744.4 L681.1,747.4 L681.7,750.3 L682.4,753.2 L683.1,756.1 L683.7,759.0 L684.4,761.9 L685.1,764.8 L685.8,767.7 L686.4,770.7 L687.1,773.6 L687.8,776.5 L688.5,779.4 L689.2,782.3 L689.9,785.2 L690.6,788.1 L691.4,791.1 L692.1,794.0 L692.8,796.9 L693.6,799.8 L694.3,802.7 L695.1,805.6 L695.9,808.5 L696.6,811.5 L697.4,814.4 L698.2,817.3 L699.0,820.2 L699.8,823.1 L700.7,826.0 L701.5,829.0 L702.4,831.9 L703.3,834.8 L704.1,837.7 L705.0,840.6 L705.9,843.5 L706.9,846.4 L707.8,849.4 L708.8,852.3 L709.7,855.2 L710.8,858.0 L711.9,860.9 L713.0,863.7 L714.2,866.4 L715.6,869.1 L717.0,871.6 L718.5,874.1 L720.2,876.5 L721.9,878.8 L723.9,880.9 L726.0,882.9 L728.2,884.8 L730.7,886.5 L733.2,887.9 L735.9,889.2 L738.6,890.1 L741.3,890.7 L744.1,891.0 L746.8,890.9 L749.6,890.6 L752.4,890.0 L755.2,889.2 L757.9,888.1 L760.7,886.9 L763.5,885.6 L766.3,884.2 L769.2,882.7 L772.0,881.1 L774.8,879.5 L777.6,878.0 L780.5,876.5 L783.3,875.0 L786.2,873.7 L789.0,872.5 L791.9,871.5 L794.7,870.7 L797.6,870.1 L800.5,869.7 L803.3,869.5 L806.2,869.5 L809.1,869.7 L812.0,870.0 L814.8,870.5 L817.7,871.2 L820.5,872.0 L823.4,872.9 L826.2,873.9 L829.1,875.0 L831.9,876.1 L834.7,877.3 L837.6,878.5 L840.4,879.6 L843.2,880.7 L846.0,881.8 L848.9,882.7 L851.7,883.5 L854.6,884.1 L857.5,884.5 L860.3,884.8 L863.2,884.8 L866.1,884.6 L869.1,884.3 L872.0,883.8 L874.9,883.2 L877.9,882.5 L880.8,881.7 L883.7,880.8 L886.7,879.8 L889.6,878.9 L892.6,877.9 L895.5,876.9 L898.4,875.9 L901.3,875.0 L904.3,874.1 L907.2,873.3 L910.1,872.6 L912.9,872.1 L915.8,871.6 L918.6,871.1 L921.5,870.7 L924.3,870.2 L927.1,869.7 L929.8,869.1 L932.6,868.4 L935.4,867.8 L938.2,867.0 L941.0,866.3 L943.9,865.5 L946.9,864.7 L949.9,863.9 L953.0,863.2 L956.1,862.5 L959.3,861.8 L962.6,861.2 L965.8,860.8 L969.0,860.4 L972.2,860.2 L975.3,860.2 L978.4,860.4 L981.3,860.7 L984.3,861.2 L987.1,861.9 L989.9,862.7 L992.6,863.7 L995.3,864.8 L997.9,866.1 L1000.4,867.5 L1002.9,869.0 L1005.3,870.7 L1007.7,872.4 L1010.0,874.2 L1012.3,876.1 L1014.5,878.1 L1016.6,880.2 L1018.7,882.4 L1020.8,884.6 L1022.8,886.8 L1024.7,889.1 L1026.7,891.4 L1028.5,893.8 L1030.4,896.2 L1032.2,898.6 L1033.9,901.0 L1035.6,903.5 L1037.3,906.0 L1038.9,908.4 L1040.5,911.0 L1042.1,913.5 L1043.6,916.0 L1045.1,918.6 L1046.6,921.2 L1048.1,923.8 L1049.5,926.4 L1050.9,929.1 L1052.2,931.7 L1053.6,934.4 L1054.9,937.1 L1056.2,939.7 L1057.4,942.4 L1058.7,945.2 L1059.9,947.9 L1061.1,950.6 L1062.3,953.4 L1063.5,956.1 L1064.7,958.9 L1065.8,961.7 L1067.0,964.4 L1068.1,967.2 L1069.2,970.0 L1070.4,972.8 L1071.5,975.6 L1072.6,978.4 L1073.7,981.2 L1074.8,984.0 L1075.8,986.8 L1076.9,989.6 L1078.0,992.5 L1079.1,995.3 L1080.2,998.1 L1081.3,1000.9 L1082.4,1003.7 L1083.5,1006.5 L1084.6,1009.3 L1085.7,1012.1 L1086.9,1014.9 L1088.0,1017.7 L1089.2,1020.5 L1090.3,1023.3 L1091.5,1026.0 L1092.7,1028.8 L1093.9,1031.6 L1095.1,1034.3 L1096.4,1037.0 L1097.6,1039.8 L1098.9,1042.5 L1100.2,1045.2 L1101.5,1047.9 L1102.8,1050.6 L1104.1,1053.3 L1105.5,1056.0 L1106.8,1058.7 L1108.2,1061.3 L1109.6,1064.0 L1111.0,1066.6 L1112.4,1069.2 L1113.9,1071.8 L1115.3,1074.4 L1116.8,1077.0 L1118.3,1079.6 L1119.8,1082.2 L1121.3,1084.7 L1122.8,1087.3 L1124.4,1089.8 L1126.0,1092.3 L1127.5,1094.8 L1129.2,1097.3 L1130.8,1099.8 L1132.4,1102.2 L1134.1,1104.7 L1135.8,1107.1 L1137.6,1109.4 L1139.4,1111.8 L1141.2,1114.1 L1143.1,1116.3 L1145.1,1118.6 L1147.1,1120.7 L1149.2,1122.8 L1151.4,1124.9 L1153.7,1126.9 L1156.0,1128.8 L1158.4,1130.7 L1161.0,1132.4 L1163.5,1134.1 L1166.2,1135.8 L1168.9,1137.3 L1171.6,1138.8 L1174.4,1140.1 L1177.2,1141.4 L1180.0,1142.6 L1182.9,1143.7 L1185.7,1144.7 L1188.6,1145.6 L1191.5,1146.4 L1194.4,1147.2 L1197.3,1147.9 L1200.2,1148.6 L1203.1,1149.2 L1206.0,1149.7 L1209.0,1150.3 L1211.9,1150.7 L1214.9,1151.2 L1217.8,1151.6 L1220.8,1152.0 L1223.8,1152.3 L1226.7,1152.7 L1229.7,1153.1 L1232.7,1153.4 L1235.6,1153.8 L1238.6,1154.2 L1241.5,1154.6 L1244.5,1155.0 L1247.4,1155.5 L1250.4,1155.9 L1253.3,1156.4 L1256.3,1156.9 L1259.2,1157.4 L1262.1,1158.0 L1265.0,1158.5 L1267.9,1159.1 L1270.9,1159.7 L1273.8,1160.3 L1276.7,1161.0 L1279.6,1161.6 L1282.5,1162.3 L1285.4,1163.0 L1288.3,1163.7 L1291.1,1164.4 L1294.0,1165.2 L1296.9,1165.9 L1299.8,1166.7 L1302.7,1167.5 L1305.5,1168.3 L1308.4,1169.2 L1311.3,1170.0 L1314.1,1170.9 L1317.0,1171.7 L1319.8,1172.6 L1322.7,1173.6 L1325.5,1174.5 L1328.4,1175.4 L1331.2,1176.4 L1334.1,1177.4 L1336.9,1178.3 L1339.7,1179.3 L1342.6,1180.3 L1345.4,1181.3 L1348.2,1182.3 L1351.1,1183.4 L1353.9,1184.4 L1356.7,1185.4 L1359.6,1186.5 L1362.4,1187.5 L1365.2,1188.6 L1368.0,1189.6 L1370.9,1190.7 L1373.7,1191.7 L1376.5,1192.8 L1379.4,1193.8 L1382.2,1194.9 L1385.0,1195.9 L1387.8,1197.0 L1390.7,1198.0 L1393.5,1199.0 L1396.3,1200.1 L1399.2,1201.1 L1402.0,1202.1 L1404.8,1203.1 L1407.7,1204.1 L1410.5,1205.1 L1413.3,1206.1 L1416.2,1207.1 L1419.0,1208.0 L1421.9,1209.0 L1424.7,1209.9 L1427.6,1210.8 L1430.4,1211.7 L1433.3,1212.6 L1436.2,1213.5 L1439.0,1214.3 L1441.9,1215.1 L1444.8,1216.0 L1447.6,1216.8 L1450.5,1217.5 L1453.4,1218.3 L1456.3,1219.0 L1459.2,1219.7 L1462.1,1220.4 L1465.0,1221.1 L1467.9,1221.7 L1470.8,1222.3 L1473.7,1222.9 L1476.6,1223.4 L1479.6,1224.0 L1482.5,1224.5 L1485.4,1224.9 L1488.4,1225.4 L1491.3,1225.8 L1494.3,1226.2 L1497.2,1226.6 L1500.2,1227.0 L1503.1,1227.3 L1506.1,1227.6 L1509.1,1227.9 L1512.1,1228.2 L1515.0,1228.5 L1518.0,1228.7 L1521.0,1229.0 L1524.0,1229.2 L1527.0,1229.4 L1530.0,1229.5 L1532.9,1229.7 L1535.9,1229.8 L1538.9,1230.0 L1541.9,1230.1 L1544.9,1230.2 L1547.9,1230.3 L1551.0,1230.4 L1554.0,1230.5 L1557.0,1230.5 L1560.0,1230.6 L1563.0,1230.6 L1566.0,1230.6 L1569.0,1230.7 L1572.0,1230.7 L1575.0,1230.7 L1578.1,1230.7 L1581.1,1230.7 L1584.1,1230.7 L1587.1,1230.7 L1590.1,1230.6 L1593.2,1230.6 L1596.2,1230.6 L1599.2,1230.6 L1602.2,1230.5 L1605.2,1230.5 L1608.2,1230.5 L1611.3,1230.4 L1614.3,1230.4 L1617.3,1230.4 L1620.3,1230.3 L1623.3,1230.3 L1626.3,1230.3 L1629.3,1230.2 L1632.3,1230.2 L1635.3,1230.2 L1638.3,1230.2 L1641.3,1230.2 L1644.3,1230.2 L1647.3,1230.2 L1650.3,1230.2 L1653.3,1230.2 L1656.3,1230.2 L1659.3,1230.2 L1662.3,1230.2 L1665.3,1230.2 L1668.3,1230.2 L1671.3,1230.3 L1674.3,1230.3 L1677.3,1230.3 L1680.3,1230.3 L1683.2,1230.4 L1686.2,1230.4 L1689.2,1230.4 L1692.2,1230.5 L1695.2,1230.5 L1698.2,1230.5 L1701.2,1230.6 L1704.1,1230.6 L1707.1,1230.6 L1710.1,1230.7 L1713.1,1230.7 L1716.1,1230.7 L1719.1,1230.8 L1722.0,1230.8 L1725.0,1230.8 L1728.0,1230.9 L1731.0,1230.9 L1734.0,1230.9 L1737.0,1231.0 L1740.0,1231.0 L1743.0,1231.0 L1745.9,1231.1 L1748.9,1231.1 L1751.9,1231.1 L1754.9,1231.1 L1757.9,1231.1 L1760.9,1231.2 L1763.9,1231.2 L1766.9,1231.2 L1769.9,1231.2 L1772.9,1231.2 L1775.9,1231.2 L1778.9,1231.2 L1781.9,1231.2 L1784.9,1231.2 L1787.9,1231.2 L1790.9,1231.2 L1793.9,1231.1 L1796.9,1231.1 L1799.9,1231.1 L1803.0,1231.1 L1806.0,1231.0 L1809.0,1231.0 L1812.0,1230.9 L1815.1,1230.9 L1818.1,1230.8 L1821.1,1230.8" stroke="#ff0000"/>
<path d="M405.0,239.8 L405.7,237.5 L406.3,235.0 L406.9,232.3 L407.5,229.5 L408.2,226.5 L408.9,223.5 L409.6,220.4 L410.3,217.2 L411.1,214.0 L411.9,210.8 L412.8,207.7 L413.8,204.5 L414.9,201.4 L416.0,198.4 L417.3,195.5 L418.6,192.7 L420.1,190.1 L421.7,187.6 L423.4,185.3 L425.2,183.2 L427.3,181.4 L429.4,179.8 L431.7,178.5 L434.1,177.8 L436.4,177.7 L438.8,178.4 L441.1,179.6 L443.3,181.3 L445.5,183.3 L447.5,185.5 L449.5,187.9 L451.4,190.4 L453.2,193.0 L454.9,195.7 L456.4,198.4 L457.8,201.2 L459.1,204.1 L460.3,206.9 L461.4,209.8 L462.4,212.7 L463.3,215.7 L464.2,218.6 L465.0,221.6 L465.7,224.5 L466.4,227.5 L467.1,230.5 L467.8,233.5 L468.4,236.5 L469.0,239.4 L469.7,242.4 L470.3,245.3 L471.0,248.3 L471.7,251.2 L472.5,254.1 L473.3,256.9 L474.1,259.7 L475.1,262.5 L476.1,265.3 L477.2,268.0 L478.4,270.6 L479.8,273.2 L481.2,275.8 L482.7,278.3 L484.3,280.8 L485.9,283.3 L487.7,285.7 L489.4,288.1 L491.2,290.5 L493.1,292.9 L495.0,295.2 L496.9,297.6 L498.8,299.9 L500.7,302.3 L502.6,304.7 L504.5,307.0 L506.3,309.4 L508.1,311.8 L509.9,314.3 L511.6,316.7 L513.4,319.2 L515.0,321.7 L516.7,324.2 L518.3,326.7 L519.8,329.2 L521.4,331.8 L522.9,334.4 L524.4,336.9 L525.8,339.6 L527.2,342.2 L528.6,344.8 L530.0,347.5 L531.3,350.1 L532.6,352.8 L533.9,355.5 L535.2,358.2 L536.4,360.9 L537.7,363.6 L538.8,366.3 L540.0,369.1 L541.2,371.8 L542.3,374.6 L543.4,377.4 L544.5,380.2 L545.6,383.0 L546.7,385.7 L547.7,388.6 L548.8,391.4 L549.8,394.2 L550.8,397.0 L551.8,399.8 L552.8,402.7 L553.7,405.5 L554.7,408.4 L555.6,411.2 L556.6,414.1 L557.5,416.9 L558.4,419.8 L559.4,422.6 L560.3,425.5 L561.2,428.3 L562.1,431.2 L563.0,434.1 L563.9,436.9 L564.7,439.8 L565.6,442.7 L566.5,445.6 L567.4,448.4 L568.3,451.3 L569.1,454.2 L570.0,457.1 L570.9,459.9 L571.7,462.8 L572.6,465.7 L573.5,468.6 L574.3,471.4 L575.2,474.3 L576.1,477.2 L576.9,480.1 L577.8,482.9 L578.7,485.8 L579.5,488.7 L580.4,491.5 L581.3,494.4 L582.2,497.3 L583.1,500.1 L584.0,503.0 L584.9,505.9 L585.8,508.7 L586.8,511.6 L587.7,514.4 L588.6,517.3 L589.6,520.1 L590.5,522.9 L591.5,525.8 L592.5,528.6 L593.4,531.4 L594.4,534.3 L595.4,537.1 L596.4,539.9 L597.5,542.7 L598.5,545.5 L599.6,548.3 L600.6,551.1 L601.7,553.9 L602.8,556.7 L603.9,559.5 L605.1,562.2 L606.2,565.0 L607.3,567.7 L608.5,570.5 L609.7,573.3 L610.9,576.0 L612.0,578.8 L613.2,581.5 L614.4,584.2 L615.6,587.0 L616.8,589.7 L618.0,592.5 L619.2,595.2 L620.4,598.0 L621.6,600.7 L622.8,603.5 L624.0,606.2 L625.2,609.0 L626.3,611.7 L627.5,614.5 L628.6,617.3 L629.8,620.0 L630.9,622.8 L632.0,625.6 L633.1,628.4 L634.1,631.2 L635.2,634.0 L636.2,636.8 L637.3,639.6 L638.3,642.4 L639.3,645.3 L640.3,648.1 L641.3,650.9 L642.2,653.8 L643.2,656.6 L644.1,659.5 L645.1,662.3 L646.0,665.2 L646.9,668.0 L647.9,670.9 L648.8,673.7 L649.7,676.6 L650.6,679.5 L651.4,682.3 L652.3,685.2 L653.2,688.1 L654.1,690.9 L654.9,693.8 L655.8,696.7 L656.6,699.6 L657.5,702.4 L658.3,705.3 L659.2,708.2 L660.0,711.1 L660.8,713.9 L661.7,716.8 L662.5,719.7 L663.3,722.6 L664.1,725.5 L665.0,728.4 L665.8,731.2 L666.6,734.1 L667.4,737.0 L668.2,739.9 L669.0,742.8 L669.8,745.7 L670.7,748.5 L671.5,751.4 L672.3,754.3 L673.1,757.2 L673.9,760.1 L674.7,763.0 L675.5,765.9 L676.4,768.7 L677.2,771.6 L678.0,774.5 L678.8,777.4 L679.6,780.3 L680.5,783.2 L681.3,786.0 L682.1,788.9 L683.0,791.8 L683.8,794.7 L684.7,797.6 L685.5,800.4 L686.4,803.3 L687.2,806.2 L688.1,809.1 L689.0,811.9 L689.8,814.8 L690.7,817.7 L691.6,820.6 L692.4,823.4 L693.3,826.3 L694.2,829.2 L695.0,832.1 L695.8,834.9 L696.7,837.8 L697.5,840.7 L698.3,843.6 L699.1,846.5 L699.9,849.3 L700.7,852.2 L701.5,855.1 L702.2,858.0 L703.0,860.9 L703.7,863.8 L704.5,866.7 L705.2,869.5 L706.0,872.4 L706.8,875.3 L707.7,878.2 L708.6,881.0 L709.6,883.9 L710.6,886.7 L711.7,889.5 L712.9,892.3 L714.2,895.0 L715.6,897.8 L717.1,900.5 L718.8,903.2 L720.5,905.8 L722.4,908.3 L724.4,910.7 L726.5,912.9 L728.8,914.9 L731.1,916.6 L733.5,918.0 L736.1,919.1 L738.7,920.0 L741.4,920.7 L744.2,921.1 L747.0,921.3 L749.9,921.4 L752.9,921.2 L755.9,920.9 L758.9,920.5 L762.0,919.9 L765.0,919.2 L768.1,918.5 L771.2,917.6 L774.3,916.7 L777.4,915.8 L780.4,914.8 L783.4,913.8 L786.4,912.9 L789.4,911.9 L792.3,911.1 L795.2,910.3 L798.1,909.6 L800.9,909.1 L803.8,908.8 L806.7,908.6 L809.6,908.7 L812.4,909.0 L815.3,909.4 L818.2,909.9 L821.2,910.4 L824.1,910.8 L827.0,911.2 L829.9,911.5 L832.8,911.6 L835.8,911.6 L838.7,911.6 L841.6,911.4 L844.6,911.1 L847.5,910.7 L850.4,910.3 L853.4,909.8 L856.3,909.2 L859.3,908.5 L862.2,907.8 L865.2,907.0 L868.1,906.2 L871.1,905.3 L874.0,904.4 L877.0,903.5 L879.9,902.5 L882.9,901.5 L885.8,900.5 L888.7,899.5 L891.7,898.5 L894.6,897.4 L897.6,896.4 L900.5,895.4 L903.5,894.4 L906.4,893.4 L909.3,892.5 L912.3,891.6 L915.2,890.7 L918.1,889.9 L921.0,889.1 L924.0,888.4 L926.9,887.7 L929.8,887.1 L932.7,886.6 L935.6,886.1 L938.5,885.7 L941.4,885.4 L944.3,885.3 L947.2,885.2 L950.1,885.2 L952.9,885.3 L955.8,885.5 L958.7,885.9 L961.5,886.3 L964.3,886.9 L967.2,887.6 L970.0,888.4 L972.8,889.3 L975.5,890.4 L978.2,891.5 L980.9,892.7 L983.6,894.0 L986.2,895.4 L988.8,896.9 L991.4,898.4 L993.9,900.1 L996.3,901.8 L998.7,903.7 L1001.0,905.6 L1003.3,907.5 L1005.5,909.6 L1007.7,911.7 L1009.7,913.8 L1011.7,916.1 L1013.7,918.3 L1015.6,920.7 L1017.4,923.1 L1019.1,925.5 L1020.8,928.0 L1022.5,930.5 L1024.1,933.1 L1025.7,935.7 L1027.2,938.3 L1028.6,941.0 L1030.1,943.7 L1031.5,946.4 L1032.9,949.1 L1034.2,951.9 L1035.5,954.7 L1036.8,957.4 L1038.1,960.2 L1039.4,963.0 L1040.6,965.8 L1041.9,968.6 L1043.1,971.4 L1044.3,974.1 L1045.6,976.9 L1046.8,979.6 L1048.0,982.4 L1049.3,985.1 L1050.5,987.8 L1051.7,990.5 L1053.0,993.2 L1054.2,995.9 L1055.5,998.6 L1056.7,1001.2 L1058.0,1003.9 L1059.3,1006.5 L1060.5,1009.2 L1061.8,1011.8 L1063.1,1014.5 L1064.4,1017.1 L1065.8,1019.7 L1067.1,1022.4 L1068.4,1025.0 L1069.8,1027.6 L1071.2,1030.2 L1072.6,1032.9 L1074.0,1035.5 L1075.4,1038.1 L1076.8,1040.7 L1078.3,1043.4 L1079.8,1046.0 L1081.3,1048.6 L1082.8,1051.3 L1084.4,1053.9 L1085.9,1056.5 L1087.5,1059.2 L1089.1,1061.8 L1090.8,1064.4 L1092.5,1067.0 L1094.2,1069.6 L1095.9,1072.1 L1097.7,1074.6 L1099.5,1077.1 L1101.3,1079.6 L1103.2,1082.0 L1105.1,1084.3 L1107.1,1086.6 L1109.1,1088.9 L1111.1,1091.1 L1113.2,1093.2 L1115.3,1095.3 L1117.5,1097.3 L1119.7,1099.2 L1122.0,1101.0 L1124.3,1102.7 L1126.7,1104.4 L1129.1,1106.0 L1131.6,1107.4 L1134.1,1108.8 L1136.7,1110.1 L1139.3,1111.4 L1141.9,1112.5 L1144.6,1113.6 L1147.4,1114.6 L1150.1,1115.5 L1152.9,1116.4 L1155.8,1117.2 L1158.7,1117.9 L1161.6,1118.6 L1164.5,1119.2 L1167.4,1119.8 L1170.4,1120.3 L1173.4,1120.8 L1176.4,1121.2 L1179.5,1121.6 L1182.5,1121.9 L1185.6,1122.2 L1188.6,1122.5 L1191.7,1122.7 L1194.8,1122.9 L1197.9,1123.1 L1201.0,1123.2 L1204.1,1123.3 L1207.2,1123.4 L1210.3,1123.5 L1213.4,1123.6 L1216.5,1123.6 L1219.6,1123.7 L1222.7,1123.7 L1225.7,1123.8 L1228.8,1123.8 L1231.8,1123.8 L1234.8,1123.9 L1237.8,1123.9 L1240.8,1124.0 L1243.8,1124.1 L1246.8,1124.2 L1249.7,1124.3 L1252.6,1124.4 L1255.6,1124.6 L1258.5,1124.9 L1261.4,1125.1 L1264.3,1125.4 L1267.2,1125.8 L1270.0,1126.2 L1272.9,1126.7 L1275.8,1127.2 L1278.6,1127.8 L1281.4,1128.5 L1284.3,1129.2 L1287.1,1130.0 L1289.9,1130.9 L1292.7,1131.9 L1295.5,1133.0 L1298.3,1134.1 L1301.1,1135.3 L1303.9,1136.5 L1306.6,1137.8 L1309.4,1139.2 L1312.2,1140.5 L1314.9,1141.9 L1317.7,1143.3 L1320.4,1144.8 L1323.2,1146.2 L1325.9,1147.6 L1328.7,1149.0 L1331.4,1150.4 L1334.1,1151.8 L1336.9,1153.1 L1339.6,1154.4 L1342.3,1155.6 L1345.0,1156.8 L1347.8,1157.9 L1350.5,1159.0 L1353.2,1160.1 L1356.0,1161.1 L1358.8,1162.1 L1361.5,1163.0 L1364.3,1163.9 L1367.1,1164.7 L1370.0,1165.5 L1372.8,1166.3 L1375.7,1167.1 L1378.6,1167.8 L1381.5,1168.6 L1384.4,1169.3 L1387.3,1170.1 L1390.2,1170.9 L1393.1,1171.7 L1396.0,1172.5 L1398.8,1173.3 L1401.7,1174.2 L1404.6,1175.2 L1407.4,1176.2 L1410.2,1177.3 L1413.0,1178.4 L1415.7,1179.6 L1418.5,1180.9 L1421.2,1182.3 L1423.8,1183.8 L1426.4,1185.3 L1429.0,1186.9 L1431.6,1188.5 L1434.2,1190.2 L1436.8,1191.9 L1439.3,1193.5 L1441.9,1195.1 L1444.5,1196.7 L1447.1,1198.2 L1449.8,1199.6 L1452.5,1201.0 L1455.2,1202.3 L1457.9,1203.5 L1460.6,1204.7 L1463.4,1205.9 L1466.2,1206.9 L1469.0,1207.9 L1471.8,1208.9 L1474.6,1209.8 L1477.5,1210.7 L1480.4,1211.5 L1483.2,1212.3 L1486.1,1213.0 L1489.0,1213.7 L1491.9,1214.4 L1494.9,1215.0 L1497.8,1215.6 L1500.7,1216.2 L1503.7,1216.8 L1506.6,1217.3 L1509.6,1217.8 L1512.6,1218.3 L1515.5,1218.7 L1518.5,1219.2 L1521.5,1219.6 L1524.5,1220.0 L1527.4,1220.4 L1530.4,1220.8 L1533.4,1221.2 L1536.4,1221.6 L1539.3,1221.9 L1542.3,1222.3 L1545.3,1222.6 L1548.3,1222.9 L1551.3,1223.2 L1554.2,1223.5 L1557.2,1223.8 L1560.2,1224.1 L1563.2,1224.4 L1566.2,1224.6 L1569.2,1224.9 L1572.1,1225.1 L1575.1,1225.4 L1578.1,1225.6 L1581.1,1225.8 L1584.1,1226.0 L1587.1,1226.2 L1590.1,1226.4 L1593.1,1226.6 L1596.1,1226.7 L1599.1,1226.9 L1602.1,1227.1 L1605.0,1227.2 L1608.0,1227.4 L1611.0,1227.5 L1614.0,1227.6 L1617.0,1227.7 L1620.0,1227.9 L1623.0,1228.0 L1626.0,1228.1 L1629.0,1228.2 L1632.0,1228.3 L1635.0,1228.3 L1638.0,1228.4 L1641.0,1228.5 L1644.0,1228.6 L1647.0,1228.6 L1650.0,1228.7 L1653.0,1228.8 L1656.0,1228.8 L1659.0,1228.9 L1662.0,1228.9 L1665.0,1229.0 L1668.0,1229.0 L1671.0,1229.0 L1674.0,1229.1 L1677.0,1229.1 L1680.0,1229.1 L1683.0,1229.1 L1686.0,1229.2 L1689.0,1229.2 L1692.0,1229.2 L1695.0,1229.2 L1698.0,1229.2 L1701.0,1229.3 L1704.0,1229.3 L1707.0,1229.3 L1710.0,1229.3 L1713.0,1229.3 L1716.0,1229.3 L1719.1,1229.3 L1722.1,1229.3 L1725.1,1229.3 L1728.1,1229.4 L1731.1,1229.4 L1734.1,1229.4 L1737.1,1229.4 L1740.1,1229.4 L1743.1,1229.4 L1746.1,1229.4 L1749.1,1229.5 L1752.1,1229.5 L1755.1,1229.5 L1758.1,1229.5 L1761.1,1229.6 L1764.1,1229.6 L1767.1,1229.6 L1770.1,1229.7 L1773.1,1229.7 L1776.1,1229.8 L1779.1,1229.8 L1782.0,1229.9 L1785.0,1229.9 L1788.0,1230.0 L1791.0,1230.0 L1794.0,1230.1 L1797.0,1230.2 L1800.0,1230.3 L1803.0,1230.4 L1806.0,1230.5 L1809.0,1230.5 L1812.0,1230.6 L1815.0,1230.8 L1818.0,1230.9 L1821.0,1231.0" stroke="#000000"/>
<path d="M405.0,298.0 L405.4,295.0 L405.9,292.0 L406.4,289.0 L406.9,286.0 L407.4,283.0 L407.9,280.1 L408.5,277.2 L409.1,274.2 L409.7,271.3 L410.3,268.4 L410.9,265.5 L411.5,262.6 L412.2,259.7 L412.8,256.8 L413.5,253.9 L414.1,251.0 L414.7,248.1 L415.4,245.2 L416.0,242.3 L416.6,239.4 L417.2,236.4 L417.8,233.5 L418.4,230.5 L419.1,227.6 L419.7,224.6 L420.4,221.7 L421.1,218.7 L421.9,215.8 L422.7,212.8 L423.5,209.9 L424.4,206.9 L425.3,203.9 L426.3,201.0 L427.4,198.1 L428.6,195.1 L429.8,192.2 L431.1,189.3 L432.5,186.5 L434.0,183.9 L435.7,181.7 L437.4,180.0 L439.3,179.2 L441.4,179.2 L443.6,180.1 L445.8,181.7 L448.0,183.8 L450.1,186.0 L452.0,188.3 L453.8,190.6 L455.5,193.1 L457.1,195.6 L458.5,198.2 L459.9,200.9 L461.2,203.6 L462.4,206.3 L463.5,209.1 L464.6,212.0 L465.7,214.8 L466.7,217.7 L467.6,220.6 L468.6,223.5 L469.6,226.4 L470.5,229.4 L471.5,232.3 L472.4,235.2 L473.5,238.1 L474.5,240.9 L475.6,243.8 L476.7,246.6 L477.8,249.4 L479.0,252.2 L480.2,255.0 L481.4,257.7 L482.6,260.5 L483.9,263.2 L485.1,266.0 L486.4,268.7 L487.6,271.4 L488.9,274.1 L490.1,276.9 L491.4,279.6 L492.6,282.3 L493.8,285.0 L495.0,287.8 L496.2,290.5 L497.3,293.2 L498.4,296.0 L499.5,298.8 L500.6,301.5 L501.6,304.3 L502.6,307.1 L503.6,309.9 L504.6,312.8 L505.6,315.6 L506.5,318.4 L507.4,321.3 L508.3,324.1 L509.1,327.0 L510.0,329.8 L510.8,332.7 L511.6,335.6 L512.4,338.5 L513.2,341.4 L513.9,344.3 L514.7,347.2 L515.4,350.1 L516.2,353.0 L516.9,355.9 L517.6,358.8 L518.3,361.7 L518.9,364.6 L519.6,367.6 L520.3,370.5 L520.9,373.4 L521.6,376.4 L522.2,379.3 L522.9,382.2 L523.5,385.2 L524.2,388.1 L524.8,391.1 L525.4,394.0 L526.1,397.0 L526.7,399.9 L527.3,402.8 L528.0,405.8 L528.6,408.7 L529.3,411.7 L529.9,414.6 L530.6,417.5 L531.2,420.5 L531.9,423.4 L532.6,426.3 L533.2,429.2 L533.9,432.2 L534.6,435.1 L535.2,438.0 L535.9,440.9 L536.6,443.9 L537.3,446.8 L538.0,449.7 L538.7,452.6 L539.4,455.5 L540.1,458.4 L540.8,461.3 L541.5,464.3 L542.2,467.2 L542.9,470.1 L543.6,473.0 L544.3,475.9 L545.0,478.8 L545.7,481.7 L546.4,484.6 L547.1,487.5 L547.8,490.4 L548.5,493.3 L549.3,496.2 L550.0,499.2 L550.7,502.1 L551.4,505.0 L552.1,507.9 L552.8,510.8 L553.5,513.7 L554.2,516.6 L554.9,519.5 L555.6,522.4 L556.3,525.3 L557.0,528.2 L557.7,531.1 L558.4,534.0 L559.1,537.0 L559.8,539.9 L560.5,542.8 L561.2,545.7 L561.9,548.6 L562.6,551.5 L563.3,554.4 L563.9,557.4 L564.6,560.3 L565.3,563.2 L566.0,566.1 L566.6,569.0 L567.3,572.0 L567.9,574.9 L568.6,577.8 L569.3,580.7 L569.9,583.7 L570.6,586.6 L571.2,589.5 L571.9,592.4 L572.5,595.4 L573.2,598.3 L573.8,601.2 L574.4,604.2 L575.1,607.1 L575.7,610.0 L576.4,612.9 L577.0,615.9 L577.7,618.8 L578.3,621.7 L578.9,624.7 L579.6,627.6 L580.2,630.5 L580.9,633.5 L581.5,636.4 L582.2,639.3 L582.8,642.3 L583.5,645.2 L584.1,648.1 L584.8,651.1 L585.4,654.0 L586.1,656.9 L586.8,659.9 L587.4,662.8 L588.1,665.7 L588.8,668.6 L589.5,671.6 L590.2,674.5 L591.0,677.4 L591.7,680.3 L592.5,683.2 L593.2,686.1 L594.0,689.0 L594.8,691.8 L595.6,694.7 L596.5,697.6 L597.3,700.4 L598.2,703.3 L599.1,706.1 L600.1,708.9 L601.0,711.8 L602.0,714.6 L603.0,717.4 L604.1,720.1 L605.1,722.9 L606.2,725.7 L607.3,728.5 L608.4,731.2 L609.5,734.0 L610.7,736.7 L611.8,739.5 L613.0,742.2 L614.1,744.9 L615.3,747.7 L616.4,750.4 L617.6,753.2 L618.7,756.0 L619.9,758.7 L621.0,761.5 L622.1,764.3 L623.2,767.1 L624.3,769.8 L625.4,772.7 L626.4,775.5 L627.5,778.3 L628.4,781.2 L629.4,784.0 L630.4,786.9 L631.3,789.8 L632.2,792.6 L633.1,795.5 L634.0,798.4 L634.9,801.4 L635.8,804.3 L636.6,807.2 L637.5,810.1 L638.3,813.0 L639.1,815.9 L640.0,818.8 L640.8,821.7 L641.6,824.7 L642.5,827.6 L643.3,830.4 L644.1,833.3 L645.0,836.2 L645.8,839.1 L646.7,841.9 L647.6,844.8 L648.4,847.6 L649.3,850.5 L650.2,853.3 L651.1,856.1 L652.0,858.9 L653.0,861.7 L653.9,864.5 L654.9,867.3 L655.8,870.1 L656.8,872.8 L657.8,875.6 L658.8,878.4 L659.8,881.1 L660.8,883.9 L661.8,886.7 L662.8,889.4 L663.9,892.2 L664.9,895.0 L666.0,897.7 L667.1,900.5 L668.2,903.2 L669.3,906.0 L670.4,908.8 L671.5,911.5 L672.7,914.3 L673.8,917.1 L675.0,919.9 L676.2,922.7 L677.4,925.5 L678.6,928.3 L679.8,931.1 L681.0,933.9 L682.3,936.7 L683.5,939.5 L684.8,942.4 L686.1,945.2 L687.4,948.1 L688.7,950.9 L690.0,953.8 L691.4,956.7 L692.8,959.5 L694.2,962.4 L695.7,965.1 L697.2,967.9 L698.7,970.5 L700.3,973.1 L702.0,975.5 L703.8,977.9 L705.6,980.1 L707.5,982.2 L709.6,984.2 L711.7,985.9 L713.9,987.5 L716.2,989.0 L718.7,990.2 L721.2,991.2 L723.9,992.0 L726.8,992.5 L729.7,992.8 L732.8,993.0 L735.9,993.0 L739.1,992.9 L742.3,992.7 L745.6,992.5 L748.9,992.3 L752.1,992.1 L755.4,992.0 L758.6,991.9 L761.7,992.0 L764.8,992.2 L767.7,992.6 L770.5,993.2 L773.3,994.0 L775.9,995.0 L778.4,996.2 L780.9,997.5 L783.2,999.0 L785.5,1000.6 L787.7,1002.3 L789.8,1004.2 L791.9,1006.2 L793.8,1008.3 L795.7,1010.5 L797.6,1012.8 L799.4,1015.2 L801.1,1017.7 L802.8,1020.2 L804.4,1022.7 L806.1,1025.3 L807.7,1027.9 L809.3,1030.5 L811.0,1033.1 L812.6,1035.7 L814.3,1038.3 L816.0,1040.8 L817.7,1043.3 L819.5,1045.7 L821.4,1048.1 L823.3,1050.3 L825.3,1052.5 L827.3,1054.5 L829.5,1056.5 L831.8,1058.2 L834.1,1059.9 L836.6,1061.4 L839.3,1062.7 L842.0,1063.8 L844.9,1064.7 L847.9,1065.5 L851.0,1066.2 L854.1,1066.9 L857.3,1067.5 L860.4,1068.2 L863.4,1069.0 L866.4,1069.9 L869.3,1070.9 L872.0,1072.2 L874.6,1073.7 L877.0,1075.3 L879.4,1077.0 L881.7,1078.8 L884.0,1080.7 L886.3,1082.6 L888.6,1084.4 L891.0,1086.1 L893.4,1087.8 L895.9,1089.3 L898.6,1090.6 L901.3,1091.9 L904.0,1093.0 L906.9,1094.1 L909.7,1095.1 L912.5,1096.1 L915.4,1097.2 L918.2,1098.3 L921.0,1099.4 L923.8,1100.5 L926.6,1101.6 L929.3,1102.8 L932.1,1104.0 L934.9,1105.2 L937.6,1106.4 L940.3,1107.6 L943.1,1108.9 L945.8,1110.1 L948.5,1111.3 L951.2,1112.6 L954.0,1113.8 L956.7,1115.1 L959.4,1116.3 L962.1,1117.5 L964.8,1118.7 L967.6,1119.9 L970.3,1121.1 L973.0,1122.3 L975.8,1123.4 L978.5,1124.5 L981.3,1125.6 L984.1,1126.7 L986.9,1127.7 L989.7,1128.6 L992.5,1129.5 L995.4,1130.2 L998.2,1130.8 L1001.1,1131.3 L1004.1,1131.7 L1007.0,1131.9 L1010.0,1132.0 L1013.0,1131.9 L1016.1,1131.6 L1019.2,1131.1 L1022.3,1130.6 L1025.4,1130.0 L1028.4,1129.5 L1031.5,1129.0 L1034.5,1128.8 L1037.5,1128.7 L1040.4,1129.0 L1043.2,1129.4 L1046.0,1130.2 L1048.7,1131.1 L1051.4,1132.2 L1054.1,1133.5 L1056.7,1134.9 L1059.3,1136.4 L1061.9,1138.1 L1064.5,1139.8 L1067.0,1141.6 L1069.5,1143.4 L1072.1,1145.2 L1074.6,1147.0 L1077.2,1148.8 L1079.7,1150.5 L1082.3,1152.2 L1084.9,1153.8 L1087.6,1155.3 L1090.2,1156.6 L1092.9,1157.8 L1095.7,1158.8 L1098.4,1159.8 L1101.2,1160.6 L1104.1,1161.3 L1106.9,1161.8 L1109.8,1162.3 L1112.7,1162.7 L1115.6,1163.0 L1118.6,1163.3 L1121.5,1163.5 L1124.5,1163.6 L1127.5,1163.6 L1130.5,1163.6 L1133.5,1163.6 L1136.5,1163.5 L1139.6,1163.4 L1142.6,1163.3 L1145.6,1163.2 L1148.7,1163.1 L1151.7,1162.9 L1154.7,1162.8 L1157.8,1162.7 L1160.8,1162.6 L1163.8,1162.5 L1166.9,1162.4 L1169.9,1162.3 L1172.9,1162.3 L1175.9,1162.2 L1178.9,1162.1 L1182.0,1162.1 L1185.0,1162.1 L1188.0,1162.1 L1191.0,1162.0 L1194.0,1162.1 L1197.0,1162.1 L1200.0,1162.1 L1203.0,1162.2 L1206.0,1162.2 L1209.0,1162.3 L1212.0,1162.4 L1215.0,1162.5 L1218.0,1162.6 L1221.0,1162.8 L1224.0,1162.9 L1226.9,1163.1 L1229.9,1163.3 L1232.9,1163.5 L1235.9,1163.7 L1238.8,1164.0 L1241.8,1164.3 L1244.8,1164.6 L1247.7,1164.9 L1250.7,1165.2 L1253.6,1165.6 L1256.5,1165.9 L1259.5,1166.3 L1262.4,1166.8 L1265.4,1167.2 L1268.3,1167.7 L1271.2,1168.2 L1274.1,1168.7 L1277.0,1169.3 L1279.9,1169.8 L1282.8,1170.4 L1285.7,1171.1 L1288.6,1171.7 L1291.5,1172.4 L1294.4,1173.1 L1297.3,1173.9 L1300.2,1174.6 L1303.0,1175.4 L1305.9,1176.3 L1308.8,1177.1 L1311.6,1178.0 L1314.5,1178.9 L1317.3,1179.9 L1320.1,1180.9 L1323.0,1181.8 L1325.8,1182.9 L1328.6,1183.9 L1331.5,1184.9 L1334.3,1186.0 L1337.1,1187.1 L1339.9,1188.2 L1342.7,1189.3 L1345.5,1190.5 L1348.3,1191.6 L1351.1,1192.8 L1353.9,1193.9 L1356.7,1195.1 L1359.5,1196.3 L1362.3,1197.5 L1365.0,1198.7 L1367.8,1199.9 L1370.6,1201.1 L1373.4,1202.3 L1376.1,1203.5 L1378.9,1204.8 L1381.7,1206.0 L1384.5,1207.2 L1387.2,1208.4 L1390.0,1209.5 L1392.8,1210.7 L1395.5,1211.9 L1398.3,1213.0 L1401.1,1214.1 L1403.9,1215.3 L1406.7,1216.3 L1409.4,1217.4 L1412.2,1218.4 L1415.0,1219.4 L1417.8,1220.4 L1420.7,1221.3 L1423.5,1222.2 L1426.3,1223.1 L1429.1,1223.9 L1432.0,1224.7 L1434.8,1225.4 L1437.7,1226.1 L1440.6,1226.8 L1443.5,1227.4 L1446.4,1227.9 L1449.3,1228.4 L1452.2,1228.9 L1455.1,1229.3 L1458.1,1229.6 L1461.0,1229.9 L1464.0,1230.2 L1466.9,1230.5 L1469.9,1230.7 L1472.9,1230.8 L1475.9,1231.0 L1478.9,1231.1 L1481.9,1231.2 L1484.9,1231.2 L1487.9,1231.2 L1490.9,1231.3 L1493.9,1231.3 L1496.9,1231.2 L1499.9,1231.2 L1503.0,1231.2 L1506.0,1231.1 L1509.0,1231.0 L1512.0,1230.9 L1515.1,1230.9 L1518.1,1230.8 L1521.1,1230.7 L1524.1,1230.6 L1527.2,1230.6 L1530.2,1230.5 L1533.2,1230.4 L1536.2,1230.4 L1539.2,1230.3 L1542.2,1230.3 L1545.3,1230.3 L1548.3,1230.2 L1551.3,1230.2 L1554.3,1230.2 L1557.3,1230.2 L1560.3,1230.2 L1563.3,1230.2 L1566.3,1230.2 L1569.3,1230.2 L1572.3,1230.2 L1575.3,1230.3 L1578.2,1230.3 L1581.2,1230.3 L1584.2,1230.3 L1587.2,1230.4 L1590.2,1230.4 L1593.2,1230.4 L1596.2,1230.5 L1599.2,1230.5 L1602.2,1230.5 L1605.1,1230.6 L1608.1,1230.6 L1611.1,1230.7 L1614.1,1230.7 L1617.1,1230.7 L1620.1,1230.8 L1623.1,1230.8 L1626.1,1230.8 L1629.0,1230.9 L1632.0,1230.9 L1635.0,1230.9 L1638.0,1230.9 L1641.0,1231.0 L1644.0,1231.0 L1647.0,1231.0 L1650.0,1231.0 L1653.0,1231.0 L1656.0,1231.0 L1659.0,1231.0 L1662.0,1231.0 L1665.0,1231.0 L1668.0,1231.0 L1671.0,1231.0 L1674.0,1231.0 L1677.0,1231.0 L1680.0,1231.0 L1683.0,1231.0 L1686.0,1231.0 L1689.0,1231.0 L1692.0,1231.0 L1695.0,1231.0 L1698.0,1230.9 L1701.0,1230.9 L1704.0,1230.9 L1707.0,1230.9 L1710.0,1230.9 L1713.0,1230.9 L1716.0,1230.9 L1719.0,1230.8 L1722.0,1230.8 L1725.0,1230.8 L1728.0,1230.8 L1731.0,1230.8 L1734.1,1230.8 L1737.1,1230.7 L1740.1,1230.7 L1743.1,1230.7 L1746.1,1230.7 L1749.1,1230.7 L1752.1,1230.7 L1755.1,1230.7 L1758.1,1230.7 L1761.1,1230.7 L1764.1,1230.6 L1767.1,1230.6 L1770.1,1230.6 L1773.1,1230.6 L1776.1,1230.6 L1779.1,1230.6 L1782.1,1230.6 L1785.1,1230.7 L1788.1,1230.7 L1791.1,1230.7 L1794.0,1230.7 L1797.0,1230.7 L1800.0,1230.7 L1803.0,1230.7 L1806.0,1230.8 L1809.0,1230.8 L1812.0,1230.8 L1815.0,1230.8 L1818.0,1230.9 L1821.0,1230.9" stroke="#ffc000"/>
</g>
<g font-family="'Liberation Sans', Arial, sans-serif" font-weight="bold" font-size="75" fill="#000" text-anchor="end">
<text x="362.3" y="224.0">40,000</text>
<text x="362.3" y="481.4">30,000</text>
<text x="362.3" y="744.8">20,000</text>
<text x="362.3" y="1000.3">10,000</text>
<text x="341.2" y="1254.3">0</text>
</g>
<g font-family="'Liberation Sans', Arial, sans-serif" font-weight="bold" font-size="75" fill="#000" text-anchor="middle">
<text x="404.3" y="1342.2">250</text>
<text x="809.2" y="1342.2">350</text>
<text x="1214.2" y="1342.2">450</text>
<text x="1619.3" y="1342.2">550</text>
</g>
<text font-family="'Liberation Sans', Arial, sans-serif" font-weight="bold" font-size="84" x="1010.5" y="1427" text-anchor="middle">λ / nm</text>
<text font-family="'Liberation Sans', Arial, sans-serif" font-weight="bold" font-size="85" transform="translate(90.3,864) rotate(-90)"><tspan x="-3" y="0">ε</tspan><tspan x="58.3" y="0">/</tspan><tspan x="105.2" y="0">M</tspan><tspan x="179.3" y="-25.1" font-size="57">-</tspan><tspan x="191.9" y="-25.1" font-size="57">1</tspan><tspan x="247.1" y="0">c</tspan><tspan x="290.3" y="0">m</tspan><tspan x="364.3" y="-25.1" font-size="57">-</tspan><tspan x="376.5" y="-25.1" font-size="57">1</tspan></text>
<g font-family="'Liberation Sans', Arial, sans-serif" font-weight="bold" font-size="74" text-anchor="middle">
<text x="705.7" y="221" fill="#0f6fc6">1</text>
<text x="709.5" y="305" fill="#00b050">2</text>
<text x="709.5" y="389" fill="#dd77e4">3</text>
<text x="709.5" y="472" fill="#ff0000">4</text>
<text x="709.5" y="557" fill="#000000">5</text>
<text x="709.5" y="640" fill="#ffc000">6</text>
</g>
<g stroke="#000" stroke-width="11" fill="none">
<line x1="1218.5" y1="55" x2="1218.5" y2="578.5"/>
<line x1="1197.5" y1="60" x2="1223.5" y2="60"/>
<line x1="1197.5" y1="318.3" x2="1218.5" y2="318.3"/>
<line x1="1197.5" y1="573.5" x2="1218.5" y2="573.5"/>
<line x1="1213.5" y1="573.5" x2="1813.5" y2="573.5"/>
<line x1="1514.5" y1="573.5" x2="1514.5" y2="596"/>
<line x1="1808" y1="568" x2="1808" y2="596"/>
</g>
<line x1="1226.3" y1="569.7" x2="1809.3" y2="148.0" stroke="#000" stroke-width="10"/>
<defs><radialGradient id="mk" cx="0.5" cy="0.5" r="0.5"><stop offset="0" stop-color="#000"/><stop offset="0.64" stop-color="#000"/><stop offset="0.76" stop-color="#0b1548"/><stop offset="0.87" stop-color="#3e5fc8"/><stop offset="0.95" stop-color="#a8b8ff" stop-opacity="0.8"/><stop offset="1" stop-color="#fff" stop-opacity="0"/></radialGradient></defs>
<circle cx="1226.3" cy="576.2" r="25.5" fill="url(#mk)"/>
<circle cx="1279" cy="526" r="25.5" fill="url(#mk)"/>
<circle cx="1367.8" cy="473.4" r="25.5" fill="url(#mk)"/>
<circle cx="1516.4" cy="363" r="25.5" fill="url(#mk)"/>
<circle cx="1661.2" cy="259.1" r="25.5" fill="url(#mk)"/>
<circle cx="1809.3" cy="154.5" r="25.5" fill="url(#mk)"/>
<g font-family="'Liberation Sans', Arial, sans-serif" font-size="74" fill="#000" stroke="#000" stroke-width="1.6" text-anchor="end">
<text x="1151.7" y="81.8">1</text>
<text x="1156.5" y="340.3">0.5</text>
<text x="1155.5" y="599">0</text>
</g>
<g font-family="'Liberation Sans', Arial, sans-serif" font-size="74" fill="#000" stroke="#000" stroke-width="1.6" text-anchor="middle">
<text x="1218.3" y="685.5">0</text>
<text x="1509" y="686">0.01</text>
<text x="1809.6" y="686">0.02</text>
</g>
<text font-family="'Liberation Sans', Arial, sans-serif" font-weight="bold" font-size="70" x="1513.2" y="787" text-anchor="middle" textLength="275" lengthAdjust="spacing">[5] / mM</text>
<text font-family="'Liberation Sans', Arial, sans-serif" font-size="74" stroke="#000" stroke-width="1.0" transform="translate(986.5,522.9) rotate(-90)" textLength="414" lengthAdjust="spacing">Absorbance</text>
</svg>
</body></html>
